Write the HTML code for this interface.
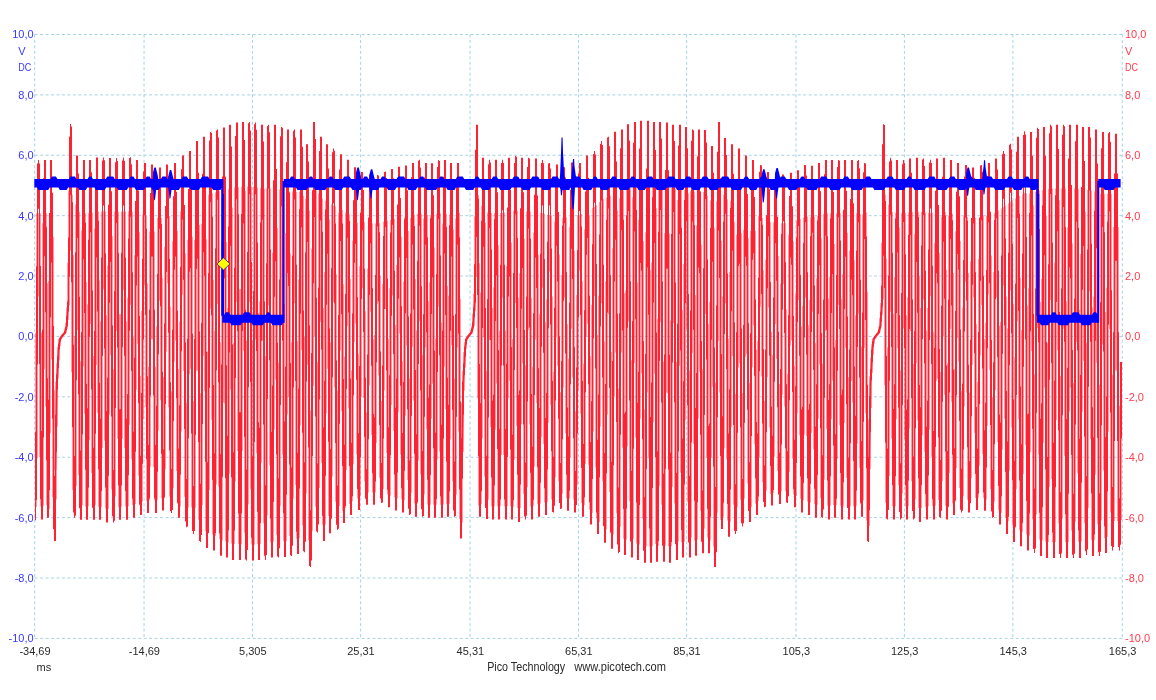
<!DOCTYPE html>
<html><head><meta charset="utf-8"><title>PicoScope</title>
<style>html,body{margin:0;padding:0;background:#fff;width:1156px;height:700px;overflow:hidden}svg{display:block}</style>
</head><body>
<svg width="1156" height="700" viewBox="0 0 1156 700">
<rect width="1156" height="700" fill="#ffffff"/>
<path d="M34.7 34.5H1122.3M34.7 94.89H1122.3M34.7 155.28H1122.3M34.7 215.67H1122.3M34.7 276.06H1122.3M34.7 336.45H1122.3M34.7 396.84H1122.3M34.7 457.23H1122.3M34.7 517.62H1122.3M34.7 578.01H1122.3M34.7 638.4H1122.3M34.7 34.5V638.4M144.06 34.5V638.4M252.49 34.5V638.4M360.63 34.5V638.4M470.06 34.5V638.4M578.49 34.5V638.4M686.63 34.5V638.4M796 34.5V638.4M904.4 34.5V638.4M1012.9 34.5V638.4M1122.3 34.5V638.4" stroke="#a6d3e3" stroke-width="1" stroke-dasharray="3 2.45" fill="none"/>
<path d="M35 332.82h1V507.01h-1ZM36 213.25h1V506.89h-1ZM37 213.25h1V457.67h-1ZM38 213.25h1V296.41h-1ZM39 213.25h1V456.92h-1ZM40 213.25h1V506.38h-1ZM41 332.38h1V506.25h-1ZM42 223.21h1V506.04h-1ZM43 213.25h1V505.79h-1ZM44 213.25h1V369.25h-1ZM45 213.25h1V406.56h-1ZM46 213.25h1V505.05h-1ZM47 283.27h1V504.81h-1ZM48 280.98h1V505.64h-1ZM49 213.25h1V508.99h-1ZM50 213.25h1V433.21h-1ZM51 212.61h1V359.17h-1ZM52 211.32h1V496.96h-1ZM53 237.06h1V522.38h-1ZM54 390.15h1V525.73h-1ZM55 381.67h1V525.52h-1ZM56 363.33h1V499.61h-1ZM57 346.7h1V426.75h-1ZM58 338.9h1V378.63h-1ZM59 337.35h1V360.59h-1ZM60 335.81h1V345.98h-1ZM61 334.58h1V339.59h-1ZM62 333.4h1V338.05h-1ZM63 332.22h1V336.5h-1ZM64 328.45h1V335.32h-1ZM65 322.38h1V334.14h-1ZM66 307.37h1V332.69h-1ZM67 262.83h1V328.64h-1ZM68 190.64h1V319.92h-1ZM69 189.35h1V305.46h-1ZM70 188.06h1V250.5h-1ZM71 191.35h1V372.23h-1ZM72 194.64h1V489.96h-1ZM73 255.13h1V505.84h-1ZM74 336.15h1V504.74h-1ZM75 204.51h1V504.92h-1ZM76 207.8h1V485.82h-1ZM77 210.25h1V330.05h-1ZM78 210.73h1V475.03h-1ZM79 211.63h1V506.2h-1ZM80 361.59h1V506.52h-1ZM81 230.45h1V506.59h-1ZM82 212.63h1V505.17h-1ZM83 213.11h1V365.99h-1ZM84 213.25h1V413.86h-1ZM85 213.25h1V506.59h-1ZM86 282.04h1V506.59h-1ZM87 304.44h1V506.59h-1ZM88 213.25h1V506.59h-1ZM89 213.25h1V440.15h-1ZM90 213.2h1V323.89h-1ZM91 212.93h1V473.07h-1ZM92 212.66h1V506.59h-1ZM93 356.01h1V506.59h-1ZM94 228.44h1V506.59h-1ZM95 211.86h1V505.07h-1ZM96 211.59h1V364.92h-1ZM97 211.49h1V413.12h-1ZM98 211.47h1V506.59h-1ZM99 280.39h1V506.59h-1ZM100 321.42h1V506.73h-1ZM101 211.41h1V507.08h-1ZM102 211.39h1V448.06h-1ZM103 211.37h1V289.62h-1ZM104 211.44h1V440.72h-1ZM105 211.52h1V508.48h-1ZM106 314.96h1V508.83h-1ZM107 265.83h1V509h-1ZM108 211.74h1V509h-1ZM109 211.82h1V414.67h-1ZM110 211.86h1V355.09h-1ZM111 211.86h1V489.27h-1ZM112 236.3h1V509h-1ZM113 369.15h1V509h-1ZM114 211.86h1V508.66h-1ZM115 211.86h1V496.48h-1ZM116 211.86h1V330.91h-1ZM117 211.81h1V438.86h-1ZM118 211.75h1V507.15h-1ZM119 314.23h1V506.78h-1ZM120 313.94h1V506.59h-1ZM121 211.61h1V506.59h-1ZM122 211.56h1V438.75h-1ZM123 211.5h1V289.75h-1ZM124 211.47h1V448.1h-1ZM125 211.44h1V506.59h-1ZM126 321.53h1V506.59h-1ZM127 297.81h1V506.42h-1ZM128 211.35h1V506.13h-1ZM129 211.32h1V424.75h-1ZM130 211.32h1V304.96h-1ZM131 211.6h1V459.13h-1ZM132 211.87h1V505h-1ZM133 337h1V504.72h-1ZM134 255.23h1V504.39h-1ZM135 212.7h1V504.04h-1ZM136 212.98h1V389.74h-1ZM137 213.25h1V344.05h-1ZM138 213.52h1V475.46h-1ZM139 232.36h1V502.64h-1ZM140 376.01h1V502.29h-1ZM141 311.01h1V502h-1ZM142 214.62h1V501.72h-1ZM143 214.89h1V419.27h-1ZM144 215.16h1V285.21h-1ZM145 215.35h1V407.02h-1ZM146 215.51h1V500.63h-1ZM147 283.45h1V500.36h-1ZM148 366.85h1V500.17h-1ZM149 231.53h1V500.17h-1ZM150 216.16h1V467.08h-1ZM151 216.32h1V339.25h-1ZM152 216.54h1V339.25h-1ZM153 216.81h1V467.08h-1ZM154 231.53h1V500.17h-1ZM155 366.85h1V500.17h-1ZM156 326.24h1V499.95h-1ZM157 217.89h1V499.64h-1ZM158 218.16h1V430.75h-1ZM159 218.42h1V300.54h-1ZM160 218.31h1V400.14h-1ZM161 218.02h1V498.38h-1ZM162 277.86h1V498.06h-1ZM163 377.27h1V497.93h-1ZM164 246.87h1V498.21h-1ZM165 216.89h1V469.17h-1ZM166 216.6h1V351.53h-1ZM167 216.36h1V283.15h-1ZM168 216.21h1V407.2h-1ZM169 216.05h1V496.57h-1ZM170 306.69h1V499.89h-1ZM171 391.35h1V500.17h-1ZM172 241.21h1V500.78h-1ZM173 215.44h1V488.29h-1ZM174 215.29h1V361.84h-1ZM175 214.88h1V340.8h-1ZM176 214.21h1V471.02h-1ZM177 231.08h1V503.84h-1ZM178 368.93h1V504.45h-1ZM179 321.87h1V505.43h-1ZM180 211.51h1V506.56h-1ZM181 210.84h1V431.49h-1ZM182 210.17h1V294.85h-1ZM183 209.67h1V370.97h-1ZM184 209.25h1V496.78h-1ZM185 253.44h1V512.22h-1ZM186 402.79h1V513.36h-1ZM187 239.87h1V514.31h-1ZM188 207.58h1V507.63h-1ZM189 207.16h1V374.13h-1ZM190 206.46h1V368.75h-1ZM191 205.48h1V507.15h-1ZM192 236.82h1V518.96h-1ZM193 401.15h1V519.89h-1ZM194 240.05h1V520.94h-1ZM195 201.53h1V507.64h-1ZM196 200.55h1V370.64h-1ZM197 199.78h1V370.46h-1ZM198 199.34h1V519.77h-1ZM199 224.99h1V526.19h-1ZM200 393.17h1V527.22h-1ZM201 223.79h1V528.04h-1ZM202 197.6h1V505.04h-1ZM203 197.16h1V355.8h-1ZM204 196.7h1V391.28h-1ZM205 196.2h1V531.33h-1ZM206 239.3h1V532.15h-1ZM207 351.47h1V532.88h-1ZM208 194.7h1V533.23h-1ZM209 194.2h1V490.09h-1ZM210 193.7h1V308.87h-1ZM211 193.41h1V419.72h-1ZM212 193.15h1V534.61h-1ZM213 279.69h1V534.95h-1ZM214 330.98h1V535.38h-1ZM215 192.34h1V536.12h-1ZM216 192.08h1V484.53h-1ZM217 191.81h1V304.06h-1ZM218 191.59h1V486.48h-1ZM219 191.37h1V539.1h-1ZM220 342.15h1V539.84h-1ZM221 241.6h1V540.24h-1ZM222 190.7h1V540.49h-1ZM223 190.48h1V402.52h-1ZM224 190.22h1V403.61h-1ZM225 189.93h1V541.23h-1ZM226 242.05h1V541.47h-1ZM227 307.95h1V541.77h-1ZM228 189.06h1V542.18h-1ZM229 188.78h1V473.83h-1ZM230 188.5h1V389.24h-1ZM231 188.26h1V543.41h-1ZM232 207.6h1V543.82h-1ZM233 342.77h1V544.07h-1ZM234 187.53h1V544.07h-1ZM235 187.29h1V481.39h-1ZM236 187.05h1V301.84h-1ZM237 186.96h1V451.02h-1ZM238 186.91h1V544.07h-1ZM239 289.37h1V544.07h-1ZM240 289.06h1V544.1h-1ZM241 186.75h1V544.17h-1ZM242 186.7h1V450.9h-1ZM243 186.66h1V350.78h-1ZM244 186.66h1V532.85h-1ZM245 190.91h1V544.47h-1ZM246 340.85h1V544.53h-1ZM247 186.66h1V544.53h-1ZM248 186.66h1V504.49h-1ZM249 186.66h1V301.64h-1ZM250 186.72h1V489.29h-1ZM251 186.78h1V544.53h-1ZM252 340.85h1V544.53h-1ZM253 186.89h1V544.48h-1ZM254 186.95h1V544.41h-1ZM255 187.03h1V339.44h-1ZM256 187.25h1V453.16h-1ZM257 187.47h1V544.18h-1ZM258 313.12h1V544.11h-1ZM259 301.41h1V544.07h-1ZM260 188.14h1V544.07h-1ZM261 188.37h1V462.53h-1ZM262 188.55h1V340.8h-1ZM263 188.55h1V523.14h-1ZM264 189.09h1V544.07h-1ZM265 356.16h1V544.07h-1ZM266 188.55h1V543.69h-1ZM267 188.55h1V515.31h-1ZM268 188.55h1V305.22h-1ZM269 188.55h1V465.51h-1ZM270 188.55h1V542.21h-1ZM271 325.59h1V541.83h-1ZM272 252.82h1V541.65h-1ZM273 188.55h1V541.65h-1ZM274 188.55h1V429.48h-1ZM275 188.66h1V379.59h-1ZM276 188.88h1V534.7h-1ZM277 228.07h1V541.65h-1ZM278 362.76h1V541.64h-1ZM279 189.55h1V541.59h-1ZM280 189.77h1V506.11h-1ZM281 189.99h1V321.64h-1ZM282 190.28h1V454.43h-1ZM283 190.57h1V541.36h-1ZM284 303.78h1V541.3h-1ZM285 233.35h1V541.2h-1ZM286 191.45h1V541.06h-1ZM287 191.75h1V414.28h-1ZM288 191.84h1V396.9h-1ZM289 191.84h1V536.03h-1ZM290 253.55h1V540.48h-1ZM291 342.3h1V540.31h-1ZM292 191.84h1V540.01h-1ZM293 191.84h1V498.5h-1ZM294 191.84h1V303.32h-1ZM295 191.84h1V484.97h-1ZM296 191.84h1V538.79h-1ZM297 341.25h1V538.48h-1ZM298 279.41h1V538.22h-1ZM299 191.84h1V537.99h-1ZM300 191.84h1V425.51h-1ZM301 192.18h1V350.01h-1ZM302 193.89h1V525.55h-1ZM303 195.84h1V537.03h-1ZM304 336.72h1V537.04h-1ZM305 199.04h1V539.32h-1ZM306 200.75h1V493.53h-1ZM307 201.68h1V364.71h-1ZM308 199.47h1V540.25h-1ZM309 210.54h1V548.43h-1ZM310 410.4h1V550.02h-1ZM311 248.86h1V545.43h-1ZM312 190.63h1V530.79h-1ZM313 188.42h1V385.96h-1ZM314 186.98h1V336.1h-1ZM315 188.58h1V506.44h-1ZM316 190.19h1V522.44h-1ZM317 362.19h1V518.43h-1ZM318 193.41h1V519.7h-1ZM319 195.02h1V487.92h-1ZM320 196.62h1V321.96h-1ZM321 197.58h1V462.94h-1ZM322 198.38h1V524.75h-1ZM323 307.9h1V526.02h-1ZM324 271.92h1V525.61h-1ZM325 200.77h1V524.5h-1ZM326 201.57h1V413.38h-1ZM327 202.27h1V368.65h-1ZM328 202.75h1V516.08h-1ZM329 219.41h1V520.03h-1ZM330 342.3h1V519.05h-1ZM331 204.18h1V518.61h-1ZM332 204.66h1V476.49h-1ZM333 205.14h1V301.85h-1ZM334 205.69h1V387.25h-1ZM335 206.24h1V501.67h-1ZM336 274.34h1V516.38h-1ZM337 390.62h1V515.93h-1ZM338 213.1h1V515.01h-1ZM339 208.46h1V506.05h-1ZM340 209.01h1V350.14h-1ZM341 209.57h1V411.35h-1ZM342 210.12h1V511.12h-1ZM343 284.36h1V510.15h-1ZM344 356.64h1V509.15h-1ZM345 212.76h1V508.1h-1ZM346 212.33h1V469.94h-1ZM347 212.88h1V326.06h-1ZM348 213.54h1V408.5h-1ZM349 214.25h1V503.9h-1ZM350 278.98h1V502.85h-1ZM351 370.49h1V501.97h-1ZM352 240.86h1V501.35h-1ZM353 217.09h1V464.37h-1ZM354 217.8h1V341.65h-1ZM355 218.42h1V323.44h-1ZM356 218.89h1V454.28h-1ZM357 222.82h1V498.25h-1ZM358 353.66h1V497.63h-1ZM359 266.15h1V497.01h-1ZM360 220.8h1V496.39h-1ZM361 221.28h1V396.74h-1ZM362 221.63h1V288.35h-1ZM363 221.87h1V397.66h-1ZM364 222.1h1V481.43h-1ZM365 311.17h1V493.29h-1ZM366 412.54h1V492.67h-1ZM367 268.5h1V492.54h-1ZM368 223.03h1V492.54h-1ZM369 223.26h1V385.21h-1ZM370 223.42h1V311.84h-1ZM371 223.46h1V434.82h-1ZM372 223.49h1V492.54h-1ZM373 339.15h1V492.54h-1ZM374 334.92h1V492.46h-1ZM375 223.61h1V492.25h-1ZM376 223.64h1V442.88h-1ZM377 223.68h1V303.76h-1ZM378 223.4h1V375.19h-1ZM379 223.09h1V477.63h-1ZM380 275.89h1V491.19h-1ZM381 401.11h1V490.98h-1ZM382 284.09h1V491.46h-1ZM383 221.83h1V489.03h-1ZM384 221.52h1V390.41h-1ZM385 221.21h1V309.12h-1ZM386 220.94h1V452.74h-1ZM387 220.68h1V494.24h-1ZM388 338.9h1V494.79h-1ZM389 288.33h1V495.24h-1ZM390 219.89h1V495.63h-1ZM391 219.63h1V404.94h-1ZM392 219.37h1V295.61h-1ZM393 219.14h1V430.95h-1ZM394 218.9h1V497.21h-1ZM395 325.08h1V497.61h-1ZM396 264.91h1V497.96h-1ZM397 218.2h1V498.24h-1ZM398 217.97h1V412.19h-1ZM399 217.81h1V333.49h-1ZM400 217.69h1V454.87h-1ZM401 236.64h1V499.37h-1ZM402 361.51h1V499.66h-1ZM403 281.68h1V499.98h-1ZM404 217.22h1V500.35h-1ZM405 217.11h1V415.73h-1ZM406 216.92h1V345.5h-1ZM407 216.65h1V480.03h-1ZM408 231.06h1V501.81h-1ZM409 378.61h1V502.18h-1ZM410 218.12h1V502.43h-1ZM411 215.55h1V492.84h-1ZM412 215.27h1V346.67h-1ZM413 214.96h1V400.73h-1ZM414 214.63h1V503.37h-1ZM415 278.97h1V503.61h-1ZM416 330.54h1V503.8h-1ZM417 213.66h1V503.8h-1ZM418 213.34h1V460.82h-1ZM419 213.08h1V321.34h-1ZM420 213.42h1V474.23h-1ZM421 213.77h1V503.8h-1ZM422 355.26h1V503.8h-1ZM423 218.39h1V503.91h-1ZM424 214.8h1V494.43h-1ZM425 215.15h1V347.55h-1ZM426 215.24h1V429.3h-1ZM427 215.27h1V504.44h-1ZM428 301.35h1V504.57h-1ZM429 281.9h1V504.63h-1ZM430 215.37h1V504.63h-1ZM431 215.41h1V418.83h-1ZM432 215.29h1V383.81h-1ZM433 214.96h1V504.63h-1ZM434 247.39h1V504.63h-1ZM435 338.4h1V504.63h-1ZM436 213.96h1V504.63h-1ZM437 213.62h1V459.59h-1ZM438 213.29h1V306.62h-1ZM439 213.25h1V451.81h-1ZM440 213.25h1V504.63h-1ZM441 322.56h1V504.63h-1ZM442 223.73h1V504.54h-1ZM443 213.25h1V504.41h-1ZM444 213.25h1V366.54h-1ZM445 213.5h1V408.89h-1ZM446 213.81h1V504.02h-1ZM447 286.01h1V503.89h-1ZM448 295.81h1V503.8h-1ZM449 214.72h1V503.8h-1ZM450 215.03h1V439.43h-1ZM451 215.22h1V345.1h-1ZM452 215.22h1V481.3h-1ZM453 229.27h1V503.8h-1ZM454 378.64h1V503.8h-1ZM455 218.39h1V506.58h-1ZM456 215.22h1V494.43h-1ZM457 215.22h1V347.55h-1ZM458 214.09h1V431.55h-1ZM459 212.69h1V518.94h-1ZM460 298.88h1V522.03h-1ZM461 402.7h1V523.46h-1ZM462 370.82h1V522.41h-1ZM463 352.04h1V451.75h-1ZM464 342.02h1V390.5h-1ZM465 338h1V367.72h-1ZM466 336.46h1V349.1h-1ZM467 335.05h1V341.3h-1ZM468 333.87h1V338.66h-1ZM469 332.69h1V337.12h-1ZM470 330.13h1V335.79h-1ZM471 326.02h1V334.61h-1ZM472 313.48h1V333.43h-1ZM473 293.66h1V330.23h-1ZM474 216.2h1V326.2h-1ZM475 190.23h1V311.28h-1ZM476 188.83h1V276.94h-1ZM477 191.42h1V398.18h-1ZM478 195.02h1V505.58h-1ZM479 263.21h1V504.53h-1ZM480 292.57h1V503.9h-1ZM481 205.82h1V504.22h-1ZM482 209.42h1V438.29h-1ZM483 211.67h1V337.32h-1ZM484 211.9h1V476.56h-1ZM485 222.68h1V505.54h-1ZM486 370.94h1V505.87h-1ZM487 212.59h1V505.97h-1ZM488 212.82h1V499.66h-1ZM489 213.04h1V339.95h-1ZM490 213.04h1V427.07h-1ZM491 213.04h1V506.14h-1ZM492 307.95h1V506.19h-1ZM493 287.25h1V506.21h-1ZM494 213.04h1V506.21h-1ZM495 213.04h1V429.8h-1ZM496 213.04h1V383.58h-1ZM497 213.04h1V506.21h-1ZM498 245.21h1V506.21h-1ZM499 330.56h1V506.21h-1ZM500 213.04h1V506.21h-1ZM501 213.04h1V454.98h-1ZM502 213.04h1V297.8h-1ZM503 212.82h1V454.98h-1ZM504 212.6h1V506.21h-1ZM505 330.56h1V506.21h-1ZM506 266.23h1V506.21h-1ZM507 211.93h1V506.21h-1ZM508 211.71h1V398.07h-1ZM509 211.5h1V380.73h-1ZM510 211.32h1V506.21h-1ZM511 242.6h1V506.21h-1ZM512 338.89h1V506.32h-1ZM513 210.77h1V506.67h-1ZM514 210.59h1V459.68h-1ZM515 210.4h1V303.04h-1ZM516 210.55h1V426.03h-1ZM517 210.74h1V508.07h-1ZM518 297.87h1V508.42h-1ZM519 273.48h1V508.48h-1ZM520 211.3h1V508.1h-1ZM521 211.48h1V424.27h-1ZM522 211.57h1V363.27h-1ZM523 211.57h1V493.96h-1ZM524 238.64h1V506.59h-1ZM525 365.38h1V506.21h-1ZM526 211.57h1V506.21h-1ZM527 211.57h1V487.16h-1ZM528 211.57h1V329.91h-1ZM529 211.65h1V424.56h-1ZM530 211.73h1V506.21h-1ZM531 297.9h1V506.21h-1ZM532 366.66h1V506.07h-1ZM533 232.7h1V505.72h-1ZM534 212.07h1V466.78h-1ZM535 212.15h1V339.5h-1ZM536 212.27h1V402.97h-1ZM537 212.43h1V504.32h-1ZM538 254.69h1V503.97h-1ZM539 314.06h1V503.68h-1ZM540 212.93h1V503.45h-1ZM541 213.09h1V436.98h-1ZM542 213.25h1V287.77h-1ZM543 213.54h1V444.05h-1ZM544 213.82h1V502.54h-1ZM545 322.3h1V502.31h-1ZM546 299.4h1V502.02h-1ZM547 214.68h1V501.7h-1ZM548 214.96h1V422.76h-1ZM549 215.23h1V271.46h-1ZM550 215.39h1V404.94h-1ZM551 215.55h1V499.32h-1ZM552 296.49h1V500.09h-1ZM553 371.71h1V499.75h-1ZM554 221.76h1V499.31h-1ZM555 216.2h1V477.14h-1ZM556 216.36h1V337.44h-1ZM557 216.57h1V365.64h-1ZM558 216.82h1V481.22h-1ZM559 254.56h1V497.12h-1ZM560 392.15h1V496.68h-1ZM561 275.08h1V496.83h-1ZM562 217.79h1V493.9h-1ZM563 218.03h1V387.46h-1ZM564 218.14h1V297.42h-1ZM565 217.72h1V433.25h-1ZM566 217.3h1V497.88h-1ZM567 324.35h1V498.09h-1ZM568 358.64h1V498.3h-1ZM569 226.96h1V498.52h-1ZM570 215.63h1V457.01h-1ZM571 215.21h1V328.76h-1ZM572 215.02h1V377.82h-1ZM573 215.05h1V499.4h-1ZM574 250.74h1V499.62h-1ZM575 411.49h1V499.9h-1ZM576 295.01h1V500.41h-1ZM577 215.15h1V484.79h-1ZM578 215.18h1V389.77h-1ZM579 215.21h1V270.62h-1ZM580 214.71h1V413.69h-1ZM581 213.99h1V502.98h-1ZM582 281.61h1V503.49h-1ZM583 363.81h1V504.17h-1ZM584 229.62h1V505.1h-1ZM585 211.12h1V464.09h-1ZM586 210.4h1V336.6h-1ZM587 209.8h1V323.68h-1ZM588 209.4h1V464.66h-1ZM589 215.34h1V509.75h-1ZM590 356.32h1V510.68h-1ZM591 304.99h1V511.82h-1ZM592 207.77h1V513.1h-1ZM593 207.36h1V431.53h-1ZM594 206.96h1V296h-1ZM595 205.96h1V467.49h-1ZM596 204.96h1V518.22h-1ZM597 334.78h1V519.5h-1ZM598 295.79h1V520.71h-1ZM599 201.96h1V521.88h-1ZM600 200.95h1V426.38h-1ZM601 199.96h1V303.34h-1ZM602 199.52h1V481.38h-1ZM603 199.08h1V526.57h-1ZM604 341.45h1V527.74h-1ZM605 281.32h1V528.61h-1ZM606 197.77h1V529.41h-1ZM607 197.34h1V414.62h-1ZM608 196.89h1V314.04h-1ZM609 196.36h1V492.1h-1ZM610 195.83h1V532.6h-1ZM611 352.08h1V533.4h-1ZM612 248.19h1V534.03h-1ZM613 194.23h1V534.62h-1ZM614 193.69h1V396.18h-1ZM615 193.28h1V352.39h-1ZM616 193.05h1V513.13h-1ZM617 210.8h1V537h-1ZM618 388.76h1V537.59h-1ZM619 198.3h1V537.87h-1ZM620 192.12h1V526.73h-1ZM621 191.88h1V352.56h-1ZM622 191.39h1V447.67h-1ZM623 190.84h1V538.86h-1ZM624 293.33h1V539.11h-1ZM625 290.13h1V539.41h-1ZM626 189.19h1V539.77h-1ZM627 188.64h1V446.36h-1ZM628 188.15h1V321.45h-1ZM629 187.91h1V501.17h-1ZM630 187.67h1V541.21h-1ZM631 360.35h1V541.58h-1ZM632 197.31h1V541.95h-1ZM633 186.94h1V538.81h-1ZM634 186.7h1V363.01h-1ZM635 186.53h1V437.75h-1ZM636 186.38h1V543.46h-1ZM637 282.39h1V543.84h-1ZM638 219.8h1V544.21h-1ZM639 185.93h1V544.58h-1ZM640 185.78h1V418.7h-1ZM641 185.75h1V373.33h-1ZM642 185.75h1V518.62h-1ZM643 241.12h1V546.04h-1ZM644 409.4h1V546.41h-1ZM645 232.2h1V546.48h-1ZM646 185.75h1V546.48h-1ZM647 185.75h1V392.5h-1ZM648 185.82h1V458.23h-1ZM649 185.97h1V546.48h-1ZM650 270.26h1V546.48h-1ZM651 262.46h1V546.39h-1ZM652 186.41h1V546.26h-1ZM653 186.55h1V422.34h-1ZM654 186.66h1V373.68h-1ZM655 186.66h1V543.89h-1ZM656 208.15h1V545.75h-1ZM657 318.51h1V545.65h-1ZM658 186.66h1V545.65h-1ZM659 186.66h1V485.84h-1ZM660 186.67h1V322.2h-1ZM661 186.72h1V504.63h-1ZM662 186.77h1V545.65h-1ZM663 361.7h1V545.65h-1ZM664 233.31h1V545.75h-1ZM665 186.93h1V545.87h-1ZM666 186.98h1V392.65h-1ZM667 187.13h1V393.2h-1ZM668 187.37h1V546.26h-1ZM669 233.54h1V546.38h-1ZM670 320.41h1V546.41h-1ZM671 188.11h1V546.03h-1ZM672 188.35h1V487.06h-1ZM673 188.55h1V322.9h-1ZM674 188.55h1V503.5h-1ZM675 188.55h1V544.52h-1ZM676 362h1V544.14h-1ZM677 199.99h1V543.75h-1ZM678 188.55h1V541.42h-1ZM679 188.55h1V365.66h-1ZM680 188.73h1V472.82h-1ZM681 188.95h1V542.16h-1ZM682 309.92h1V541.77h-1ZM683 264.07h1V541.65h-1ZM684 189.63h1V541.65h-1ZM685 189.86h1V420.33h-1ZM686 190.1h1V329.21h-1ZM687 190.38h1V501.97h-1ZM688 193.19h1V541.65h-1ZM689 370.55h1V541.65h-1ZM690 191.24h1V541.45h-1ZM691 191.52h1V537.59h-1ZM692 191.81h1V353.32h-1ZM693 191.84h1V443.97h-1ZM694 191.84h1V540.46h-1ZM695 294.81h1V540.21h-1ZM696 225.56h1V539.92h-1ZM697 191.84h1V539.55h-1ZM698 191.84h1V418.59h-1ZM699 191.88h1V371.64h-1ZM700 191.93h1V510.94h-1ZM701 244.85h1V538.09h-1ZM702 369.3h1V537.72h-1ZM703 192.09h1V537.65h-1ZM704 192.14h1V528.74h-1ZM705 192.51h1V313.9h-1ZM706 194.12h1V457.62h-1ZM707 195.73h1V537.65h-1ZM708 323.66h1V537.65h-1ZM709 302.1h1V538.48h-1ZM710 200.57h1V540.55h-1ZM711 202.19h1V457.56h-1ZM712 202.57h1V386.86h-1ZM713 200.08h1V546.76h-1ZM714 228.3h1V548.83h-1ZM715 382.61h1V549.46h-1ZM716 201.32h1V544.32h-1ZM717 190.14h1V512.63h-1ZM718 187.65h1V341.17h-1ZM719 187.72h1V392.39h-1ZM720 189.5h1V519.65h-1ZM721 240.67h1V518.64h-1ZM722 296.46h1V515.37h-1ZM723 194.83h1V516.44h-1ZM724 196.61h1V448.62h-1ZM725 198.04h1V303.36h-1ZM726 198.66h1V459.31h-1ZM727 199.28h1V520.7h-1ZM728 338.55h1V521.77h-1ZM729 271.93h1V522.12h-1ZM730 201.13h1V521.75h-1ZM731 201.75h1V427.2h-1ZM732 202.3h1V355.91h-1ZM733 202.74h1V504.72h-1ZM734 222.26h1V520.26h-1ZM735 393.93h1V519.89h-1ZM736 234.81h1V518.86h-1ZM737 204.48h1V506.97h-1ZM738 204.92h1V367.63h-1ZM739 205.49h1V363.26h-1ZM740 206.19h1V499.81h-1ZM741 233.08h1V513.75h-1ZM742 393h1V512.72h-1ZM743 229.66h1V512.16h-1ZM744 208.99h1V498.45h-1ZM745 209.69h1V356.87h-1ZM746 210.25h1V354.3h-1ZM747 210.73h1V483.53h-1ZM748 238.16h1V509.31h-1ZM749 383.1h1V508.75h-1ZM750 230.88h1V507.95h-1ZM751 212.64h1V507.09h-1ZM752 213.11h1V367.24h-1ZM753 213.56h1V325.47h-1ZM754 214h1V444.23h-1ZM755 230.97h1V503.67h-1ZM756 349.73h1V502.81h-1ZM757 341.17h1V501.92h-1ZM758 215.76h1V500.94h-1ZM759 216.2h1V457.57h-1ZM760 216.64h1V306.68h-1ZM761 217.26h1V376.51h-1ZM762 217.91h1V482.24h-1ZM763 270.31h1V496.04h-1ZM764 400.99h1V495.06h-1ZM765 259.82h1V494.77h-1ZM766 220.48h1V490.83h-1ZM767 221.13h1V377.33h-1ZM768 221.58h1V307.56h-1ZM769 221.73h1V427.58h-1ZM770 221.89h1V493.73h-1ZM771 331.87h1V493.53h-1ZM772 355.06h1V493.32h-1ZM773 222.52h1V493.11h-1ZM774 222.5h1V456.68h-1ZM775 222.66h1V324.14h-1ZM776 222.77h1V359.11h-1ZM777 222.86h1V470.96h-1ZM778 255.88h1V492.05h-1ZM779 384.09h1V491.84h-1ZM780 283.63h1V491.71h-1ZM781 223.24h1V491.6h-1ZM782 223.33h1V394.87h-1ZM783 223.37h1V283.93h-1ZM784 223.19h1V406.31h-1ZM785 223.02h1V491.17h-1ZM786 309.58h1V491.06h-1ZM787 374.01h1V491.02h-1ZM788 234.63h1V491.55h-1ZM789 222.32h1V471.64h-1ZM790 222.14h1V345.74h-1ZM791 221.93h1V340.5h-1ZM792 221.7h1V458.52h-1ZM793 241.4h1V494.22h-1ZM794 365.61h1V494.75h-1ZM795 293.47h1V495.36h-1ZM796 220.75h1V496.04h-1ZM797 220.51h1V413.21h-1ZM798 220.22h1V299.93h-1ZM799 219.7h1V435.24h-1ZM800 219.18h1V498.72h-1ZM801 326.75h1V499.39h-1ZM802 305.9h1V499.94h-1ZM803 217.62h1V500.28h-1ZM804 217.1h1V434.67h-1ZM805 216.7h1V297.68h-1ZM806 216.78h1V436.07h-1ZM807 216.86h1V501.66h-1ZM808 325.13h1V502.01h-1ZM809 299.7h1V502.36h-1ZM810 217.11h1V502.71h-1ZM811 217.19h1V433.12h-1ZM812 217.16h1V311.77h-1ZM813 216.86h1V449.41h-1ZM814 216.57h1V504.11h-1ZM815 342.71h1V504.46h-1ZM816 278.33h1V504.63h-1ZM817 215.69h1V504.63h-1ZM818 215.39h1V418.75h-1ZM819 215.1h1V364.46h-1ZM820 214.8h1V497.89h-1ZM821 237.97h1V504.63h-1ZM822 363.79h1V504.66h-1ZM823 213.91h1V504.9h-1ZM824 213.61h1V479.63h-1ZM825 213.31h1V330.91h-1ZM826 213.25h1V428.88h-1ZM827 213.25h1V505.86h-1ZM828 298.41h1V506.09h-1ZM829 277h1V506.09h-1ZM830 213.25h1V505.83h-1ZM831 213.25h1V419.19h-1ZM832 213.25h1V380.61h-1ZM833 213.25h1V505.07h-1ZM834 244.03h1V504.81h-1ZM835 340.06h1V504.7h-1ZM836 213.25h1V504.93h-1ZM837 213.25h1V458.94h-1ZM838 213.25h1V304.8h-1ZM839 213.25h1V425.19h-1ZM840 213.25h1V505.85h-1ZM841 299.36h1V506.08h-1ZM842 274.28h1V506.21h-1ZM843 213.25h1V506.21h-1ZM844 213.25h1V423.02h-1ZM845 213.25h1V347.86h-1ZM846 213.25h1V477.78h-1ZM847 232.66h1V506.21h-1ZM848 377.01h1V506.21h-1ZM849 250.62h1V506.21h-1ZM850 213.25h1V506.21h-1ZM851 213.25h1V381.09h-1ZM852 213.25h1V402.5h-1ZM853 213.25h1V506.21h-1ZM854 260.31h1V506.21h-1ZM855 315.29h1V506.07h-1ZM856 213.25h1V505.7h-1ZM857 213.25h1V443.38h-1ZM858 213.29h1V313.63h-1ZM859 213.6h1V467.74h-1ZM860 213.92h1V504.24h-1ZM861 346.42h1V503.87h-1ZM862 214.55h1V506.58h-1ZM863 214.87h1V500.36h-1ZM864 215.18h1V348.05h-1ZM865 213.94h1V413.13h-1ZM866 212.51h1V520.52h-1ZM867 291.67h1V524h-1ZM868 419.5h1V527.03h-1ZM869 376.17h1V525.93h-1ZM870 357.67h1V469.25h-1ZM871 344.36h1V408.09h-1ZM872 338.44h1V373.13h-1ZM873 336.89h1V354.46h-1ZM874 335.41h1V343.64h-1ZM875 334.23h1V339.1h-1ZM876 333.04h1V337.55h-1ZM877 331.29h1V336.15h-1ZM878 327.23h1V334.97h-1ZM879 317.67h1V333.78h-1ZM880 303.01h1V331.4h-1ZM881 242.83h1V327.42h-1ZM882 189.76h1V315.35h-1ZM883 188.34h1V299.49h-1ZM884 191.24h1V385.14h-1ZM885 194.63h1V502.72h-1ZM886 258.56h1V507.21h-1ZM887 347.19h1V506.21h-1ZM888 204.8h1V506.21h-1ZM889 208.19h1V475.97h-1ZM890 211.57h1V311.72h-1ZM891 211.83h1V438.46h-1ZM892 212.08h1V506.21h-1ZM893 313.83h1V506.21h-1ZM894 277h1V506.21h-1ZM895 212.85h1V506.21h-1ZM896 213.1h1V419.19h-1ZM897 213.25h1V348.29h-1ZM898 213.25h1V485.27h-1ZM899 227.49h1V506.21h-1ZM900 370.38h1V506.21h-1ZM901 213.25h1V506.21h-1ZM902 213.25h1V493.49h-1ZM903 213.25h1V328.53h-1ZM904 213.1h1V439h-1ZM905 212.95h1V506.21h-1ZM906 315.19h1V506.21h-1ZM907 297.49h1V506.21h-1ZM908 212.48h1V506.21h-1ZM909 212.33h1V428.5h-1ZM910 212.19h1V330.94h-1ZM911 212.09h1V480.99h-1ZM912 212h1V506.21h-1ZM913 364.12h1V506.21h-1ZM914 234.23h1V506.55h-1ZM915 211.71h1V499.2h-1ZM916 211.61h1V363.17h-1ZM917 211.63h1V420.39h-1ZM918 211.73h1V508.07h-1ZM919 276.23h1V508.44h-1ZM920 307.95h1V508.46h-1ZM921 212.02h1V508.11h-1ZM922 212.12h1V435.31h-1ZM923 212.22h1V299.45h-1ZM924 212.34h1V451.73h-1ZM925 212.45h1V506.71h-1ZM926 330.42h1V506.35h-1ZM927 307.95h1V506.21h-1ZM928 212.81h1V506.21h-1ZM929 212.93h1V429.8h-1ZM930 213.04h1V295.88h-1ZM931 212.91h1V456.87h-1ZM932 212.78h1V506.21h-1ZM933 332.23h1V506.21h-1ZM934 243.29h1V506.05h-1ZM935 212.39h1V505.81h-1ZM936 212.26h1V381.08h-1ZM937 212.15h1V378.51h-1ZM938 212.06h1V500.06h-1ZM939 252.76h1V504.85h-1ZM940 372.03h1V504.66h-1ZM941 216.86h1V504.89h-1ZM942 211.69h1V481.11h-1ZM943 211.6h1V336.53h-1ZM944 211.74h1V394.81h-1ZM945 211.98h1V505.8h-1ZM946 270.12h1V506.03h-1ZM947 363.31h1V506.1h-1ZM948 215.38h1V505.52h-1ZM949 212.94h1V473.1h-1ZM950 213.18h1V328.99h-1ZM951 213.45h1V402.08h-1ZM952 213.72h1V503.2h-1ZM953 273.12h1V502.62h-1ZM954 369.01h1V502.12h-1ZM955 231.25h1V501.78h-1ZM956 214.81h1V468.3h-1ZM957 215.08h1V338.04h-1ZM958 215.31h1V361.61h-1ZM959 215.5h1V487.91h-1ZM960 241.12h1V500.13h-1ZM961 391.09h1V499.8h-1ZM962 307.87h1V499.8h-1ZM963 216.25h1V496.06h-1ZM964 216.44h1V406.18h-1ZM965 216.63h1V281.82h-1ZM966 216.85h1V392.82h-1ZM967 217.1h1V499.8h-1ZM968 272.99h1V499.8h-1ZM969 392.72h1V499.74h-1ZM970 261.44h1V499.43h-1ZM971 218.07h1V478.14h-1ZM972 218.31h1V364.79h-1ZM973 218.46h1V297.33h-1ZM974 218.24h1V432.64h-1ZM975 218.01h1V497.88h-1ZM976 324.15h1V497.57h-1ZM977 381.89h1V497.42h-1ZM978 259.07h1V497.53h-1ZM979 217.11h1V465.7h-1ZM980 216.89h1V355.6h-1ZM981 216.67h1V304.94h-1ZM982 216.47h1V453.98h-1ZM983 216.27h1V498.08h-1ZM984 339h1V498.18h-1ZM985 322.73h1V498.79h-1ZM986 215.67h1V499.62h-1ZM987 215.47h1V425.69h-1ZM988 215.27h1V294.19h-1ZM989 214.93h1V369.93h-1ZM990 214.53h1V488.98h-1ZM991 255.56h1V503.73h-1ZM992 397.27h1V504.55h-1ZM993 271.93h1V505.4h-1ZM994 212.93h1V501.73h-1ZM995 212.53h1V389.92h-1ZM996 212.06h1V297.27h-1ZM997 211.33h1V441.97h-1ZM998 210.6h1V509.68h-1ZM999 326.02h1V510.54h-1ZM1000 321.78h1V511.54h-1ZM1001 208.41h1V512.77h-1ZM1002 207.68h1V449.84h-1ZM1003 206.96h1V285.4h-1ZM1004 206.2h1V418.79h-1ZM1005 205.45h1V517.68h-1ZM1006 296.49h1V518.9h-1ZM1007 328.53h1V520.09h-1ZM1008 203.2h1V521.13h-1ZM1009 202.45h1V470.72h-1ZM1010 201.71h1V290.57h-1ZM1011 201.05h1V427.44h-1ZM1012 200.39h1V525.27h-1ZM1013 303.93h1V526.31h-1ZM1014 357.5h1V527.26h-1ZM1015 198.4h1V527.83h-1ZM1016 197.74h1V489.24h-1ZM1017 197.08h1V321.2h-1ZM1018 196.48h1V418.91h-1ZM1019 195.91h1V530.15h-1ZM1020 277.87h1V530.73h-1ZM1021 330.27h1V531.32h-1ZM1022 194.18h1V531.91h-1ZM1023 193.6h1V474h-1ZM1024 193.03h1V288.16h-1ZM1025 193.12h1V444.99h-1ZM1026 193.21h1V534.28h-1ZM1027 305.66h1V534.87h-1ZM1028 288.5h1V535.36h-1ZM1029 193.5h1V535.7h-1ZM1030 193.59h1V452.32h-1ZM1031 193.51h1V351.04h-1ZM1032 193.04h1V519.27h-1ZM1033 205.31h1V537.04h-1ZM1034 374.32h1V537.37h-1ZM1035 191.63h1V537.8h-1ZM1036 191.16h1V514.5h-1ZM1037 190.69h1V327.87h-1ZM1038 190.56h1V454.82h-1ZM1039 190.46h1V539.52h-1ZM1040 302.09h1V539.94h-1ZM1041 278.75h1V540.31h-1ZM1042 190.18h1V540.61h-1ZM1043 190.08h1V442.83h-1ZM1044 189.95h1V387.62h-1ZM1045 189.72h1V541.51h-1ZM1046 215.47h1V541.81h-1ZM1047 342.86h1V542.02h-1ZM1048 189.03h1V542.02h-1ZM1049 188.8h1V486.68h-1ZM1050 188.57h1V299.93h-1ZM1051 188.55h1V478.97h-1ZM1052 188.55h1V542.02h-1ZM1053 319.66h1V542.02h-1ZM1054 262.77h1V542.02h-1ZM1055 188.55h1V542.02h-1ZM1056 188.55h1V419.93h-1ZM1057 188.55h1V350.13h-1ZM1058 188.55h1V523.28h-1ZM1059 200.16h1V542.02h-1ZM1060 375.97h1V542.02h-1ZM1061 188.55h1V542.02h-1ZM1062 188.55h1V518.77h-1ZM1063 188.55h1V328.63h-1ZM1064 188.55h1V455.64h-1ZM1065 188.55h1V542.02h-1ZM1066 301.13h1V542.02h-1ZM1067 227.18h1V542.02h-1ZM1068 188.55h1V542.02h-1ZM1069 188.55h1V411.43h-1ZM1070 188.55h1V387.39h-1ZM1071 188.55h1V530.55h-1ZM1072 243.54h1V542.02h-1ZM1073 383.02h1V542.02h-1ZM1074 188.55h1V542.02h-1ZM1075 188.55h1V521.57h-1ZM1076 188.55h1V341.85h-1ZM1077 188.73h1V473.14h-1ZM1078 188.96h1V542.02h-1ZM1079 310.09h1V542.02h-1ZM1080 253.91h1V541.73h-1ZM1081 189.65h1V541.31h-1ZM1082 189.88h1V411.72h-1ZM1083 190.01h1V361.11h-1ZM1084 190.01h1V523.01h-1ZM1085 211.68h1V539.65h-1ZM1086 342.81h1V539.23h-1ZM1087 190.01h1V539.37h-1ZM1088 190.01h1V507.75h-1ZM1089 190.07h1V291.18h-1ZM1090 190.34h1V439.1h-1ZM1091 190.6h1V539.91h-1ZM1092 307.41h1V540.05h-1ZM1093 296.86h1V540.16h-1ZM1094 191.41h1V540.16h-1ZM1095 191.67h1V474.8h-1ZM1096 191.95h1V362.83h-1ZM1097 192.22h1V524.13h-1ZM1098 213.96h1V540.16h-1ZM1099 384.76h1V540.16h-1ZM1100 193.95h1V539.72h-1ZM1101 193.32h1V520.36h-1ZM1102 193.6h1V344.5h-1ZM1103 193.66h1V470.56h-1ZM1104 193.66h1V537.95h-1ZM1105 312.11h1V537.5h-1ZM1106 287.65h1V537.13h-1ZM1107 193.66h1V536.78h-1ZM1108 193.66h1V431.75h-1ZM1109 193.67h1V328.98h-1ZM1110 193.85h1V512.61h-1ZM1111 194.03h1V535.39h-1ZM1112 374.67h1V535.04h-1ZM1113 227.07h1V535.04h-1ZM1114 194.57h1V521.07h-1ZM1115 194.75h1V370.51h-1ZM1116 194.84h1V370.51h-1ZM1117 194.84h1V521.07h-1ZM1118 227.07h1V535.04h-1ZM1119 405.84h1V535.04h-1ZM1120 362h1V535.04h-1ZM1121 362h1V519.97h-1Z" fill="#ff2233" fill-opacity="0.45"/>
<path d="M35 431.63h1V520.3h-1ZM36 266.29h1V500.08h-1ZM37 163.39h1V364.62h-1ZM38 160.1h1V208.76h-1ZM39 163.38h1V364.11h-1ZM40 266.02h1V499.23h-1ZM41 430.95h1V519.4h-1ZM42 329.65h1V519.4h-1ZM43 178.34h1V437.5h-1ZM44 160.1h1V256.19h-1ZM45 160.1h1V312.18h-1ZM46 227.27h1V460.25h-1ZM47 378.2h1V517.7h-1ZM48 399.73h1V517.7h-1ZM49 213.07h1V489.97h-1ZM50 160.1h1V317.18h-1ZM51 160.1h1V262.55h-1ZM52 192.7h1V418.87h-1ZM53 326.05h1V529.14h-1ZM54 475.79h1V541.1h-1ZM55 414.63h1V541.1h-1ZM56 374.43h1V451.65h-1ZM57 356.24h1V389.37h-1ZM58 343.68h1V367.9h-1ZM59 338.38h1V349h-1ZM60 336.84h1V341.2h-1ZM61 335.39h1V338.56h-1ZM62 334.21h1V337.02h-1ZM63 333.03h1V335.69h-1ZM64 330.98h1V334.51h-1ZM65 326.92h1V333.33h-1ZM66 316.2h1V330.16h-1ZM67 301.95h1V326.1h-1ZM68 237.6h1V311.18h-1ZM69 136.6h1V276.84h-1ZM70 124.1h1V194.89h-1ZM71 126.42h1V282.24h-1ZM72 202.14h1V427.25h-1ZM73 344.64h1V512.48h-1ZM74 456.04h1V517.7h-1ZM75 252.3h1V515.8h-1ZM76 155.6h1V380.28h-1ZM77 155.6h1V238h-1ZM78 173.59h1V394.25h-1ZM79 296.87h1V508.21h-1ZM80 450.59h1V519.8h-1ZM81 332.23h1V519.8h-1ZM82 182.94h1V434.27h-1ZM83 160.1h1V259.21h-1ZM84 160.1h1V312.96h-1ZM85 222.75h1V469.65h-1ZM86 383.78h1V519.8h-1ZM87 408.22h1V519.8h-1ZM88 239.85h1V487.57h-1ZM89 160.1h1V336.83h-1ZM90 160.1h1V232.21h-1ZM91 172.22h1V389.46h-1ZM92 290.44h1V507.68h-1ZM93 447.69h1V519.8h-1ZM94 330.93h1V519.8h-1ZM95 180.59h1V433.67h-1ZM96 157.6h1V257.39h-1ZM97 157.6h1V311.52h-1ZM98 220.68h1V469.3h-1ZM99 382.84h1V519.8h-1ZM100 418.79h1V519.8h-1ZM101 257.61h1V490.93h-1ZM102 160.48h1V355.68h-1ZM103 157.4h1V205.39h-1ZM104 160.33h1V348.47h-1ZM105 253.21h1V487.62h-1ZM106 411.07h1V522.4h-1ZM107 377.64h1V522.4h-1ZM108 204.78h1V475.72h-1ZM109 158.1h1V302.86h-1ZM110 158.1h1V262h-1ZM111 191.33h1V416.42h-1ZM112 325.51h1V516.14h-1ZM113 470.05h1V522.4h-1ZM114 291.23h1V520.87h-1ZM115 162.35h1V407.92h-1ZM116 158.1h1V222.99h-1ZM117 161h1V347.45h-1ZM118 253.04h1V485.34h-1ZM119 409.47h1V519.8h-1ZM120 409.32h1V519.8h-1ZM121 252.67h1V485.29h-1ZM122 160.5h1V347.21h-1ZM123 157.6h1V205.56h-1ZM124 160.68h1V355.77h-1ZM125 257.76h1V490.95h-1ZM126 418.84h1V519.8h-1ZM127 394.04h1V519.8h-1ZM128 238.52h1V475.14h-1ZM129 158.03h1V330.84h-1ZM130 157.3h1V216.77h-1ZM131 164.16h1V370.94h-1ZM132 272.15h1V498.85h-1ZM133 431.75h1V517.7h-1ZM134 357.76h1V517.7h-1ZM135 200.91h1V451.67h-1ZM136 159.9h1V285.38h-1ZM137 159.9h1V256.38h-1ZM138 190.61h1V402.91h-1ZM139 315.97h1V504.87h-1ZM140 455.82h1V515.1h-1ZM141 392.89h1V515.1h-1ZM142 258.83h1V463.64h-1ZM143 171.5h1V339.4h-1ZM144 162.9h1V215.16h-1ZM145 162.9h1V314.86h-1ZM146 228.64h1V458.96h-1ZM147 376.35h1V512.9h-1ZM148 445.07h1V512.9h-1ZM149 309.75h1V498.27h-1ZM150 192.89h1V395.57h-1ZM151 164.6h1V256.45h-1ZM152 164.6h1V256.45h-1ZM153 192.89h1V395.57h-1ZM154 309.75h1V498.27h-1ZM155 445.07h1V512.9h-1ZM156 405.77h1V512.9h-1ZM157 273.93h1V471.63h-1ZM158 180.71h1V354.16h-1ZM159 167.6h1V228.78h-1ZM160 167.6h1V306.23h-1ZM161 224.02h1V453.98h-1ZM162 371.77h1V510.4h-1ZM163 449.13h1V510.4h-1ZM164 323.57h1V497.27h-1ZM165 205.93h1V403.91h-1ZM166 164.6h1V271.89h-1ZM167 164.6h1V218.55h-1ZM168 176.06h1V332.8h-1ZM169 258.9h1V450.29h-1ZM170 382.3h1V511.05h-1ZM171 468.99h1V512.9h-1ZM172 329.67h1V510.09h-1ZM173 196.25h1V421.04h-1ZM174 162.9h1V269.68h-1ZM175 162.9h1V256.46h-1ZM176 191.72h1V398.17h-1ZM177 310.77h1V502.79h-1ZM178 448.62h1V517.7h-1ZM179 405.32h1V517.7h-1ZM180 266.98h1V474.39h-1ZM181 169.16h1V351.13h-1ZM182 155.4h1V219.56h-1ZM183 155.4h1V279.71h-1ZM184 204.92h1V429.06h-1ZM185 342.44h1V521.46h-1ZM186 478.96h1V527.2h-1ZM187 338.75h1V526.4h-1ZM188 189h1V438.33h-1ZM189 151.1h1V271.76h-1ZM190 151.1h1V267.89h-1ZM191 187.6h1V433.56h-1ZM192 333.63h1V531.03h-1ZM193 486.11h1V534.1h-1ZM194 338.92h1V531.09h-1ZM195 187.47h1V435.05h-1ZM196 141.1h1V268.96h-1ZM197 141.1h1V258.82h-1ZM198 172.85h1V441.9h-1ZM199 331.58h1V540.99h-1ZM200 483.76h1V541.9h-1ZM201 323h1V534.94h-1ZM202 173.76h1V424.02h-1ZM203 136.8h1V252.27h-1ZM204 136.8h1V275.69h-1ZM205 180.7h1V461.83h-1ZM206 351.76h1V548h-1ZM207 462.29h1V548h-1ZM208 273.25h1V532.95h-1ZM209 140.61h1V387.74h-1ZM210 132.1h1V202.36h-1ZM211 132.85h1V315.22h-1ZM212 216.76h1V479.73h-1ZM213 384.95h1V550.6h-1ZM214 453.27h1V550.6h-1ZM215 248.47h1V533.35h-1ZM216 130.59h1V370.36h-1ZM217 129.5h1V199.72h-1ZM218 137.62h1V382.14h-1ZM219 265.4h1V533.5h-1ZM220 454.25h1V555.8h-1ZM221 364.39h1V555.8h-1ZM222 176.52h1V476.71h-1ZM223 127.4h1V277.54h-1ZM224 127.4h1V278.13h-1ZM225 176.71h1V478.1h-1ZM226 365.33h1V557.5h-1ZM227 435.85h1V557.5h-1ZM228 226.52h1V530.37h-1ZM229 124.8h1V352.49h-1ZM230 124.8h1V245.75h-1ZM231 146.62h1V477.2h-1ZM232 344.51h1V560.1h-1ZM233 452.33h1V560.1h-1ZM234 267.67h1V530.53h-1ZM235 135.91h1V377.99h-1ZM236 122.6h1V199.29h-1ZM237 122.6h1V331.36h-1ZM238 214.29h1V513.38h-1ZM239 412.37h1V560.1h-1ZM240 412.2h1V560.1h-1ZM241 213.9h1V513.33h-1ZM242 122.1h1V331.1h-1ZM243 122.1h1V223.43h-1ZM244 140.06h1V436.71h-1ZM245 309.8h1V559.46h-1ZM246 469.59h1V560.6h-1ZM247 251.94h1V549.89h-1ZM248 123.3h1V387.25h-1ZM249 122.1h1V194.31h-1ZM250 130.45h1V381.96h-1ZM251 261.89h1V537.66h-1ZM252 456.16h1V560.6h-1ZM253 291.08h1V560.6h-1ZM254 124.22h1V441.95h-1ZM255 122.6h1V194.15h-1ZM256 129.65h1V351.02h-1ZM257 242.65h1V511.63h-1ZM258 422.36h1V560.1h-1ZM259 427.66h1V560.1h-1ZM260 222.47h1V523.04h-1ZM261 124.8h1V340.7h-1ZM262 124.8h1V219.71h-1ZM263 141.54h1V424.5h-1ZM264 301.51h1V555.87h-1ZM265 485.29h1V560.1h-1ZM266 263.31h1V554.95h-1ZM267 126.09h1V399.08h-1ZM268 124.8h1V188.85h-1ZM269 132.16h1V360.37h-1ZM270 249.49h1V518.45h-1ZM271 432.01h1V557.5h-1ZM272 385.65h1V557.5h-1ZM273 180.27h1V502.03h-1ZM274 124.8h1V296.65h-1ZM275 124.8h1V261.23h-1ZM276 168.92h1V454.13h-1ZM277 342.76h1V556.57h-1ZM278 478.13h1V557.5h-1ZM279 279.42h1V548.25h-1ZM280 136.15h1V404.98h-1ZM281 126.9h1V206.27h-1ZM282 127.83h1V340.4h-1ZM283 229.67h1V513.24h-1ZM284 421.45h1V557.1h-1ZM285 366.79h1V557.1h-1ZM286 162.21h1V494.6h-1ZM287 129.5h1V273.22h-1ZM288 129.5h1V285.99h-1ZM289 192.52h1V464.38h-1ZM290 362.92h1V555.28h-1ZM291 467.54h1V556.1h-1ZM292 255.81h1V545.68h-1ZM293 130.67h1V387.46h-1ZM294 129.5h1V199.43h-1ZM295 137.59h1V381.08h-1ZM296 264.82h1V531.79h-1ZM297 452.87h1V554h-1ZM298 388.49h1V554h-1ZM299 209.26h1V488.55h-1ZM300 129.5h1V313.71h-1ZM301 129.5h1V227.22h-1ZM302 146.82h1V432.85h-1ZM303 310.47h1V551.2h-1ZM304 462.14h1V552.3h-1ZM305 252.46h1V541.64h-1ZM306 144.2h1V381.6h-1ZM307 144.2h1V241.92h-1ZM308 161.52h1V447.55h-1ZM309 325.17h1V565.9h-1ZM310 510.36h1V567h-1ZM311 353.09h1V560.55h-1ZM312 190.33h1V455.98h-1ZM313 122.1h1V283.17h-1ZM314 122.1h1V216.95h-1ZM315 138.91h1V416.49h-1ZM316 297.71h1V531.34h-1ZM317 463.47h1V532.4h-1ZM318 287.66h1V524.4h-1ZM319 150.94h1V399.56h-1ZM320 136.8h1V220.5h-1ZM321 136.8h1V349.57h-1ZM322 231.83h1V515.75h-1ZM323 427.4h1V541.1h-1ZM324 380.66h1V541.1h-1ZM325 209.55h1V475.75h-1ZM326 144.2h1V304.64h-1ZM327 144.2h1V253.65h-1ZM328 168.6h1V441.85h-1ZM329 328.52h1V533.3h-1ZM330 449.33h1V533.3h-1ZM331 268.34h1V518.5h-1ZM332 152.24h1V377.13h-1ZM333 148.5h1V203.54h-1ZM334 150.73h1V303.33h-1ZM335 223.42h1V442.96h-1ZM336 360.57h1V524.8h-1ZM337 485.53h1V529.8h-1ZM338 314.93h1V528.83h-1ZM339 169.58h1V423.71h-1ZM340 154.2h1V241.08h-1ZM341 154.2h1V314.26h-1ZM342 223.46h1V466.07h-1ZM343 379.08h1V522.9h-1ZM344 444.85h1V522.9h-1ZM345 294.06h1V505.93h-1ZM346 176.77h1V388.64h-1ZM347 159.8h1V237.85h-1ZM348 159.8h1V312.62h-1ZM349 220.98h1V466.13h-1ZM350 378.84h1V515.1h-1ZM351 442.76h1V515.1h-1ZM352 313.6h1V496.18h-1ZM353 200.35h1V395.18h-1ZM354 167.2h1V262.76h-1ZM355 167.2h1V243.83h-1ZM356 188.02h1V379.75h-1ZM357 297.35h1V489.08h-1ZM358 433.27h1V509.9h-1ZM359 366.03h1V509.9h-1ZM360 212.57h1V457.46h-1ZM361 171.9h1V299.04h-1ZM362 171.9h1V230.3h-1ZM363 189.89h1V332.02h-1ZM364 268.76h1V436.63h-1ZM365 377.63h1V498.75h-1ZM366 469.26h1V504.7h-1ZM367 354.44h1V504.7h-1ZM368 217.57h1V439.27h-1ZM369 174.6h1V294.99h-1ZM370 174.6h1V243.27h-1ZM371 192.55h1V365.81h-1ZM372 288.37h1V473.25h-1ZM373 414h1V504.7h-1ZM374 417.38h1V504.7h-1ZM375 274.82h1V481.42h-1ZM376 180.93h1V362.32h-1ZM377 175h1V226.6h-1ZM378 175.5h1V301.21h-1ZM379 232.35h1V424.88h-1ZM380 351.44h1V498.48h-1ZM381 463h1V503h-1ZM382 365.56h1V502.43h-1ZM383 235.92h1V438.58h-1ZM384 172.07h1V308.94h-1ZM385 171.5h1V226.96h-1ZM386 177.89h1V370.58h-1ZM387 278.49h1V489.74h-1ZM388 427.18h1V507.3h-1ZM389 375.26h1V507.3h-1ZM390 232.45h1V455.15h-1ZM391 168.9h1V315.84h-1ZM392 168.9h1V224.68h-1ZM393 178.13h1V354.12h-1ZM394 270.82h1V474.48h-1ZM395 407.68h1V510.4h-1ZM396 378.46h1V510.4h-1ZM397 204.62h1V472.48h-1ZM398 166.7h1V298.64h-1ZM399 166.7h1V257.59h-1ZM400 198.11h1V385.71h-1ZM401 306.36h1V488.28h-1ZM402 432.97h1V512.5h-1ZM403 381.99h1V512.5h-1ZM404 219.34h1V470.74h-1ZM405 165.5h1V313.19h-1ZM406 165.5h1V258.06h-1ZM407 190.19h1V409.24h-1ZM408 316.49h1V508.82h-1ZM409 460.42h1V515.1h-1ZM410 313.6h1V514.19h-1ZM411 177.32h1V415.63h-1ZM412 162.9h1V244.41h-1ZM413 162.9h1V309.59h-1ZM414 225.97h1V453.73h-1ZM415 370.11h1V516.8h-1ZM416 434.19h1V516.8h-1ZM417 260.63h1V502.18h-1ZM418 160.73h1V364.05h-1ZM419 159.8h1V225.71h-1ZM420 167.47h1V390.4h-1ZM421 286.2h1V509.13h-1ZM422 450.89h1V516.8h-1ZM423 314.32h1V515.88h-1ZM424 177.39h1V416.85h-1ZM425 162.9h1V244.8h-1ZM426 162.9h1V332.28h-1ZM427 237.23h1V479.83h-1ZM428 397.79h1V517.7h-1ZM429 384.38h1V517.7h-1ZM430 218.21h1V475.04h-1ZM431 163.2h1V314.07h-1ZM432 163.2h1V277.36h-1ZM433 195.3h1V448.27h-1ZM434 350.87h1V517.7h-1ZM435 432.42h1V517.7h-1ZM436 274.05h1V499h-1ZM437 166.91h1V372.08h-1ZM438 160.1h1V219.11h-1ZM439 160.97h1V355.14h-1ZM440 255.47h1V496.37h-1ZM441 424.63h1V517.7h-1ZM442 330.72h1V517.7h-1ZM443 176.81h1V438.41h-1ZM444 160.1h1V253.49h-1ZM445 160.1h1V314.96h-1ZM446 227.1h1V461.82h-1ZM447 377.65h1V516.8h-1ZM448 404.8h1V516.8h-1ZM449 225.15h1V491.53h-1ZM450 162.9h1V330.69h-1ZM451 162.9h1V256.59h-1ZM452 187.89h1V409.64h-1ZM453 315.75h1V510.44h-1ZM454 461.46h1V516.8h-1ZM455 314.32h1V515.88h-1ZM456 177.39h1V416.85h-1ZM457 162.9h1V244.8h-1ZM458 162.9h1V333.76h-1ZM459 237.35h1V489.5h-1ZM460 401.52h1V538.4h-1ZM461 438.35h1V538.4h-1ZM462 382.11h1V478.4h-1ZM463 363.46h1V414.4h-1ZM464 346.8h1V375.08h-1ZM465 339h1V356.49h-1ZM466 337.45h1V344.32h-1ZM467 335.94h1V339.18h-1ZM468 334.68h1V337.64h-1ZM469 333.5h1V336.16h-1ZM470 332.32h1V334.98h-1ZM471 328.59h1V333.8h-1ZM472 322.27h1V331.77h-1ZM473 307.76h1V327.66h-1ZM474 264.27h1V317h-1ZM475 149.8h1V302.45h-1ZM476 124.8h1V237.07h-1ZM477 124.8h1V294.94h-1ZM478 198.45h1V456.37h-1ZM479 363.93h1V516.8h-1ZM480 403.16h1V516.8h-1ZM481 220.87h1V491.16h-1ZM482 157.7h1V327.95h-1ZM483 157.7h1V246.83h-1ZM484 182.12h1V399.31h-1ZM485 308.08h1V508.11h-1ZM486 455.64h1V519.1h-1ZM487 299.16h1V519.1h-1ZM488 164.29h1V417.62h-1ZM489 159.8h1V228.09h-1ZM490 162.53h1V340h-1ZM491 249.5h1V477.43h-1ZM492 400.56h1V519.4h-1ZM493 394.64h1V519.4h-1ZM494 219.16h1V485.14h-1ZM495 159.8h1V321.25h-1ZM496 159.8h1V275.59h-1ZM497 192.36h1V448.97h-1ZM498 350.17h1V519.4h-1ZM499 428.9h1V519.4h-1ZM500 264.67h1V499.46h-1ZM501 163.04h1V365.53h-1ZM502 159.8h1V210.16h-1ZM503 163.04h1V365.53h-1ZM504 264.67h1V499.46h-1ZM505 428.9h1V519.4h-1ZM506 363.83h1V519.4h-1ZM507 207.55h1V457.12h-1ZM508 157.7h1V296.41h-1ZM509 157.7h1V276.28h-1ZM510 190.04h1V449.4h-1ZM511 347.29h1V519.4h-1ZM512 434.67h1V519.4h-1ZM513 273.01h1V500.17h-1ZM514 163h1V369.95h-1ZM515 156h1V214.14h-1ZM516 156.74h1V327.93h-1ZM517 238.01h1V474.73h-1ZM518 395.03h1V522h-1ZM519 390.31h1V522h-1ZM520 208.16h1V484.44h-1ZM521 157.7h1V308.69h-1ZM522 157.7h1V268.03h-1ZM523 192.16h1V424.46h-1ZM524 330.05h1V516.5h-1ZM525 462.47h1V519.4h-1ZM526 296.47h1V515.71h-1ZM527 167.11h1V401.62h-1ZM528 157.7h1V228.5h-1ZM529 158.43h1V327.62h-1ZM530 238.74h1V472.69h-1ZM531 393.91h1V519.4h-1ZM532 446.68h1V519.4h-1ZM533 313.24h1V499.78h-1ZM534 194.66h1V395.02h-1ZM535 158.6h1V257.68h-1ZM536 158.6h1V288.09h-1ZM537 195.53h1V467.19h-1ZM538 368.33h1V516.8h-1ZM539 407.99h1V516.8h-1ZM540 253.73h1V482.81h-1ZM541 162.96h1V346.83h-1ZM542 160.1h1V205.44h-1ZM543 163.15h1V352.8h-1ZM544 259.3h1V488.27h-1ZM545 418.04h1V515.1h-1ZM546 392.89h1V515.1h-1ZM547 241.81h1V469.62h-1ZM548 163.61h1V328.37h-1ZM549 162.9h1V205.49h-1ZM550 168.38h1V324.42h-1ZM551 248.52h1V451.36h-1ZM552 380.67h1V511.96h-1ZM553 456.81h1V512.5h-1ZM554 307.66h1V505.8h-1ZM555 183.01h1V400.49h-1ZM556 164.6h1V245.74h-1ZM557 164.6h1V281.45h-1ZM558 211.96h1V419.04h-1ZM559 336.45h1V503.12h-1ZM560 462.88h1V509.1h-1ZM561 360.97h1V508.48h-1ZM562 225.66h1V439.27h-1ZM563 167.2h1V301h-1ZM564 167.2h1V223.31h-1ZM565 177.43h1V353.55h-1ZM566 272.35h1V474.66h-1ZM567 407.45h1V510.8h-1ZM568 436.57h1V510.8h-1ZM569 302.76h1V490.7h-1ZM570 189.76h1V384.32h-1ZM571 162.6h1V248.63h-1ZM572 162.6h1V278.95h-1ZM573 200.38h1V438.37h-1ZM574 347.18h1V512.5h-1ZM575 470.9h1V512.5h-1ZM576 367.58h1V505.06h-1ZM577 250.1h1V433.6h-1ZM578 173.42h1V317.45h-1ZM579 162.9h1V210.97h-1ZM580 162.9h1V315.12h-1ZM581 226.4h1V468.03h-1ZM582 381.07h1V516.8h-1ZM583 443.96h1V516.8h-1ZM584 310.3h1V497.15h-1ZM585 191.52h1V392.22h-1ZM586 155.4h1V254.65h-1ZM587 155.4h1V237.9h-1ZM588 177.83h1V384.37h-1ZM589 295.63h1V502.17h-1ZM590 442.1h1V524.6h-1ZM591 401.19h1V524.6h-1ZM592 244.28h1V478.89h-1ZM593 153.93h1V338.25h-1ZM594 151.1h1V202.8h-1ZM595 154.6h1V368.55h-1ZM596 264.03h1V512.6h-1ZM597 439.86h1V534.1h-1ZM598 394.62h1V534.1h-1ZM599 234.38h1V477.25h-1ZM600 143.92h1V326.35h-1ZM601 141.1h1V200.61h-1ZM602 144.95h1V377.59h-1ZM603 264.84h1V526h-1ZM604 452.91h1V542.8h-1ZM605 384h1V542.8h-1ZM606 219.76h1V473.35h-1ZM607 137.54h1V312.61h-1ZM608 136.8h1V208.56h-1ZM609 146.27h1V387.86h-1ZM610 275.15h1V532.58h-1ZM611 461.66h1V548.8h-1ZM612 361.09h1V548.8h-1ZM613 186.64h1V465.18h-1ZM614 131.7h1V281.5h-1ZM615 131.7h1V239.86h-1ZM616 161.48h1V422.04h-1ZM617 313.81h1V544.58h-1ZM618 487.42h1V553.2h-1ZM619 313.17h1V552.12h-1ZM620 148.37h1V434.87h-1ZM621 129.5h1V229.9h-1ZM622 129.5h1V330.41h-1ZM623 219.66h1V508.94h-1ZM624 413.56h1V554.9h-1ZM625 411.84h1V554.9h-1ZM626 215.56h1V508.38h-1ZM627 124.3h1V327.66h-1ZM628 124.3h1V211.01h-1ZM629 140.38h1V400.47h-1ZM630 281.33h1V541.42h-1ZM631 470.79h1V557.5h-1ZM632 321.22h1V557.5h-1ZM633 142.78h1V448.85h-1ZM634 122.1h1V231.55h-1ZM635 122.1h1V319.19h-1ZM636 209.92h1V502.4h-1ZM637 402.82h1V560.1h-1ZM638 371.73h1V560.1h-1ZM639 148.43h1V504.96h-1ZM640 120.8h1V263.1h-1ZM641 120.8h1V270.71h-1ZM642 185.4h1V439.18h-1ZM643 341.35h1V550.81h-1ZM644 497.3h1V562.7h-1ZM645 354.02h1V562.7h-1ZM646 168.54h1V469.04h-1ZM647 120.8h1V267.6h-1ZM648 120.8h1V314.8h-1ZM649 186.28h1V528.42h-1ZM650 417.04h1V562.7h-1ZM651 382.41h1V562.7h-1ZM652 196.88h1V487.92h-1ZM653 122.1h1V302.39h-1ZM654 122.1h1V243.12h-1ZM655 150.03h1V457.2h-1ZM656 332.6h1V561.8h-1ZM657 451.28h1V561.8h-1ZM658 231.83h1V540.91h-1ZM659 122.1h1V360.71h-1ZM660 122.1h1V210.1h-1ZM661 138.42h1V402.41h-1ZM662 281.49h1V545.48h-1ZM663 473.8h1V561.8h-1ZM664 354.39h1V561.8h-1ZM665 170.05h1V468.71h-1ZM666 122.6h1V268.51h-1ZM667 122.6h1V268.8h-1ZM668 170.15h1V469.42h-1ZM669 354.87h1V562.7h-1ZM670 452.63h1V562.7h-1ZM671 234.08h1V541.9h-1ZM672 124.8h1V362.44h-1ZM673 124.8h1V211.93h-1ZM674 140.96h1V402.3h-1ZM675 282.6h1V543.94h-1ZM676 472.97h1V560.1h-1ZM677 323.87h1V560.1h-1ZM678 145.48h1V451.48h-1ZM679 124.8h1V234.23h-1ZM680 124.8h1V350.36h-1ZM681 227.73h1V530.02h-1ZM682 438.4h1V557.5h-1ZM683 381.29h1V557.5h-1ZM684 199.98h1V484.42h-1ZM685 126.9h1V303.11h-1ZM686 126.9h1V221.01h-1ZM687 148.18h1V405.33h-1ZM688 293.98h1V542.41h-1ZM689 475.79h1V557.5h-1ZM690 310.61h1V557.5h-1ZM691 140.84h1V442.53h-1ZM692 129.5h1V221.38h-1ZM693 130.36h1V329.69h-1ZM694 225.05h1V500.73h-1ZM695 407.99h1V555.8h-1ZM696 372.99h1V555.8h-1ZM697 156.31h1V502.3h-1ZM698 129.5h1V267.61h-1ZM699 129.5h1V273.26h-1ZM700 191.43h1V434.78h-1ZM701 340.95h1V541.8h-1ZM702 490.47h1V553.2h-1ZM703 268.16h1V553.2h-1ZM704 130h1V415.04h-1ZM705 130h1V198.96h-1ZM706 142.6h1V359.44h-1ZM707 259.57h1V508.67h-1ZM708 426.04h1V553.2h-1ZM709 423.59h1V553.2h-1ZM710 228.02h1V516.77h-1ZM711 145.9h1V339.66h-1ZM712 145.9h1V261.83h-1ZM713 172.64h1V466.84h-1ZM714 347.48h1V567h-1ZM715 486.88h1V567h-1ZM716 305.59h1V552.25h-1ZM717 151.85h1V417.24h-1ZM718 122.1h1V230.59h-1ZM719 122.1h1V278.04h-1ZM720 178.18h1V455.89h-1ZM721 353.99h1V528.9h-1ZM722 416.13h1V528.9h-1ZM723 221.81h1V502.77h-1ZM724 138.1h1V333.9h-1ZM725 138.1h1V213.79h-1ZM726 155.03h1V369.08h-1ZM727 273.65h1V503.98h-1ZM728 433.57h1V536.7h-1ZM729 389.14h1V536.7h-1ZM730 208.02h1V489.45h-1ZM731 144.2h1V311.19h-1ZM732 144.2h1V250.74h-1ZM733 173.68h1V425.12h-1ZM734 322.49h1V530.75h-1ZM735 484.37h1V534.1h-1ZM736 332.27h1V531.01h-1ZM737 185.25h1V432.87h-1ZM738 148.5h1V266.08h-1ZM739 148.5h1V263.75h-1ZM740 184.51h1V427.2h-1ZM741 328.59h1V523.37h-1ZM742 479.04h1V526.4h-1ZM743 325.03h1V523.21h-1ZM744 183.45h1V422.72h-1ZM745 155.4h1V256.81h-1ZM746 155.4h1V265.63h-1ZM747 193.97h1V409.79h-1ZM748 323.2h1V511.08h-1ZM749 462.17h1V522h-1ZM750 333.29h1V522h-1ZM751 183.08h1V435.94h-1ZM752 160.1h1V259.81h-1ZM753 160.1h1V253.13h-1ZM754 196.95h1V375.65h-1ZM755 299.55h1V478.25h-1ZM756 422.07h1V515.1h-1ZM757 433.45h1V515.1h-1ZM758 277.72h1V496.58h-1ZM759 171.75h1V371.13h-1ZM760 165h1V221.04h-1ZM761 165.53h1V294.09h-1ZM762 224.86h1V423.47h-1ZM763 349.15h1V501.94h-1ZM764 465.59h1V507.3h-1ZM765 349.7h1V506.63h-1ZM766 215.21h1V432.17h-1ZM767 171.9h1V288.3h-1ZM768 171.9h1V236.23h-1ZM769 189.18h1V355.7h-1ZM770 282.09h1V465.93h-1ZM771 406.44h1V505.6h-1ZM772 435.83h1V505.6h-1ZM773 297.51h1V489.91h-1ZM774 189.29h1V381.69h-1ZM775 173.6h1V243.37h-1ZM776 173.6h1V280.73h-1ZM777 216.81h1V407.37h-1ZM778 331.72h1V494.56h-1ZM779 452.48h1V503.9h-1ZM780 368.95h1V503.9h-1ZM781 233.89h1V444.61h-1ZM782 174.6h1V309.55h-1ZM783 174.6h1V221.18h-1ZM784 183.01h1V332.93h-1ZM785 262.36h1V448.18h-1ZM786 384.22h1V502.52h-1ZM787 451.3h1V503h-1ZM788 315.34h1V496.25h-1ZM789 196.02h1V400.27h-1ZM790 172.7h1V257.59h-1ZM791 172.7h1V264.63h-1ZM792 206.13h1V391.97h-1ZM793 316.08h1V489.11h-1ZM794 439.81h1V507.3h-1ZM795 386.13h1V507.3h-1ZM796 237.75h1V462.92h-1ZM797 170.2h1V321.99h-1ZM798 170.2h1V226.1h-1ZM799 180.39h1V355.85h-1ZM800 274.96h1V476.5h-1ZM801 409.54h1V512.5h-1ZM802 406.66h1V512.5h-1ZM803 242.93h1V482.93h-1ZM804 165h1V337.44h-1ZM805 165h1V222.16h-1ZM806 175.42h1V354.87h-1ZM807 272.15h1V478.27h-1ZM808 409.81h1V515.1h-1ZM809 403.87h1V515.1h-1ZM810 236.21h1V483.87h-1ZM811 165.8h1V332.02h-1ZM812 165.8h1V232.7h-1ZM813 180.74h1V369.76h-1ZM814 285.44h1V488.82h-1ZM815 426.59h1V517.7h-1ZM816 384.27h1V517.7h-1ZM817 220.58h1V475h-1ZM818 162.9h1V313.9h-1ZM819 162.9h1V265.21h-1ZM820 191.33h1V428.22h-1ZM821 333.12h1V516.89h-1ZM822 455.33h1V517.7h-1ZM823 299.75h1V509.49h-1ZM824 174.17h1V397.65h-1ZM825 160.1h1V235.82h-1ZM826 160.1h1V329.85h-1ZM827 236.22h1V480.6h-1ZM828 399.94h1V519.4h-1ZM829 384.28h1V519.4h-1ZM830 218.51h1V476.16h-1ZM831 160.1h1V313.01h-1ZM832 160.1h1V273.96h-1ZM833 192.08h1V445.62h-1ZM834 347.54h1V517.7h-1ZM835 434.32h1V517.7h-1ZM836 275.24h1V498.78h-1ZM837 166.99h1V370.64h-1ZM838 160.1h1V217.32h-1ZM839 160.82h1V328.89h-1ZM840 240.6h1V473h-1ZM841 394.74h1V519.4h-1ZM842 389.51h1V519.4h-1ZM843 209.87h1V482.36h-1ZM844 160.1h1V309.02h-1ZM845 160.1h1V256.74h-1ZM846 190.84h1V404.15h-1ZM847 316.58h1V508.12h-1ZM848 457.78h1V519.4h-1ZM849 349.65h1V519.4h-1ZM850 198.9h1V443.28h-1ZM851 160.1h1V279.56h-1ZM852 160.1h1V295.22h-1ZM853 203.34h1V460.99h-1ZM854 366.49h1V519.4h-1ZM855 415.8h1V519.4h-1ZM856 250.72h1V490.61h-1ZM857 160.92h1V347.02h-1ZM858 160.1h1V222.32h-1ZM859 168.29h1V377.5h-1ZM860 279.85h1V502.76h-1ZM861 441.27h1V516.8h-1ZM862 312.59h1V516.8h-1ZM863 172.27h1V421.77h-1ZM864 162.9h1V238.99h-1ZM865 163.55h1V319.96h-1ZM866 236.57h1V468.23h-1ZM867 384.84h1V541.25h-1ZM868 457.1h1V541.9h-1ZM869 396.01h1V510.36h-1ZM870 368.93h1V431.65h-1ZM871 350.11h1V380.37h-1ZM872 341.34h1V362.02h-1ZM873 337.92h1V346.66h-1ZM874 336.37h1V339.61h-1ZM875 335.03h1V338.07h-1ZM876 333.85h1V336.52h-1ZM877 332.67h1V335.34h-1ZM878 329.76h1V334.16h-1ZM879 325.71h1V332.92h-1ZM880 311.84h1V328.86h-1ZM881 285.71h1V321.39h-1ZM882 144.3h1V306.53h-1ZM883 124.3h1V255.73h-1ZM884 124.98h1V288.02h-1ZM885 201.11h1V442.59h-1ZM886 355.68h1V518.72h-1ZM887 448.6h1V519.4h-1ZM888 275.48h1V509.99h-1ZM889 161.39h1V380.63h-1ZM890 157.7h1V214.63h-1ZM891 160.6h1V347.05h-1ZM892 252.64h1V484.94h-1ZM893 409.07h1V519.4h-1ZM894 384.28h1V519.4h-1ZM895 218.51h1V476.16h-1ZM896 160.1h1V313.01h-1ZM897 160.1h1V252.39h-1ZM898 185.47h1V407.63h-1ZM899 315.29h1V512.06h-1ZM900 463.22h1V519.4h-1ZM901 292.96h1V518.33h-1ZM902 164.35h1V405.12h-1ZM903 160.1h1V221.96h-1ZM904 162.98h1V348.19h-1ZM905 254.41h1V485.17h-1ZM906 409.8h1V519.4h-1ZM907 399.44h1V519.4h-1ZM908 235.04h1V480.44h-1ZM909 158.6h1V329.06h-1ZM910 158.6h1V234.99h-1ZM911 172.8h1V398.27h-1ZM912 299.5h1V511.11h-1ZM913 456.47h1V519.4h-1ZM914 331.24h1V518.57h-1ZM915 186.69h1V428.18h-1ZM916 157.7h1V261.99h-1ZM917 157.7h1V312.73h-1ZM918 216.93h1V478.15h-1ZM919 385.01h1V522h-1ZM920 407.33h1V522h-1ZM921 245.39h1V484.96h-1ZM922 159.38h1V339.01h-1ZM923 158.6h1V215.01h-1ZM924 165.97h1V363.56h-1ZM925 270.84h1V493.92h-1ZM926 426.73h1V519.4h-1ZM927 400.56h1V519.4h-1ZM928 249.5h1V475.39h-1ZM929 162.53h1V340h-1ZM930 159.8h1V208.38h-1ZM931 163.08h1V363.98h-1ZM932 265.81h1V499.22h-1ZM933 430.88h1V519.4h-1ZM934 347.72h1V519.4h-1ZM935 190.86h1V446.67h-1ZM936 158.6h1V273.48h-1ZM937 158.6h1V283.19h-1ZM938 204.97h1V437.24h-1ZM939 349h1V516.98h-1ZM940 460.1h1V517.7h-1ZM941 305.75h1V510.76h-1ZM942 176.75h1V401.79h-1ZM943 157.7h1V241.64h-1ZM944 157.7h1V298.8h-1ZM945 215.81h1V451.46h-1ZM946 365.58h1V519.4h-1ZM947 451.11h1V519.4h-1ZM948 299.46h1V506.81h-1ZM949 177.85h1V392.47h-1ZM950 160.1h1V238.73h-1ZM951 160.1h1V305.46h-1ZM952 220.33h1V454.87h-1ZM953 369.74h1V515.1h-1ZM954 448.15h1V515.1h-1ZM955 310.97h1V500.15h-1ZM956 191.8h1V395.36h-1ZM957 162.9h1V254.09h-1ZM958 162.9h1V269.56h-1ZM959 196.21h1V420.74h-1ZM960 329.48h1V509.7h-1ZM961 468.64h1V512.5h-1ZM962 383.63h1V510.64h-1ZM963 259.88h1V449.49h-1ZM964 176.54h1V331.52h-1ZM965 165h1V217.48h-1ZM966 165h1V300.58h-1ZM967 220.82h1V447.23h-1ZM968 364.7h1V512.5h-1ZM969 461.31h1V512.5h-1ZM970 339.65h1V503.22h-1ZM971 217.99h1V416.14h-1ZM972 167.6h1V284.72h-1ZM973 167.6h1V223.5h-1ZM974 177.79h1V353.25h-1ZM975 272.36h1V473.9h-1ZM976 406.94h1V509.9h-1ZM977 448.5h1V509.9h-1ZM978 332h1V493.48h-1ZM979 218.1h1V404.27h-1ZM980 165.46h1V280.86h-1ZM981 165h1V220.36h-1ZM982 171.66h1V368.61h-1ZM983 276.33h1V492.5h-1ZM984 430.15h1V510.8h-1ZM985 402.86h1V510.8h-1ZM986 270.04h1V467.43h-1ZM987 176.11h1V348.15h-1ZM988 162.9h1V222.48h-1ZM989 162.9h1V283.23h-1ZM990 211.68h1V424.94h-1ZM991 339.9h1V511.54h-1ZM992 470.12h1V517.7h-1ZM993 362.14h1V517.05h-1ZM994 220.01h1V444.35h-1ZM995 158.6h1V299.11h-1ZM996 158.6h1V218.33h-1ZM997 169.5h1V357.08h-1ZM998 270.63h1V486.1h-1ZM999 414.55h1V524.6h-1ZM1000 422.51h1V524.6h-1ZM1001 255.48h1V496.37h-1ZM1002 154.31h1V353.82h-1ZM1003 151.1h1V198.77h-1ZM1004 153.73h1V325.55h-1ZM1005 238.52h1V471.81h-1ZM1006 390.89h1V534.1h-1ZM1007 441.54h1V534.1h-1ZM1008 252.71h1V516.72h-1ZM1009 144.7h1V364.89h-1ZM1010 143.7h1V192.84h-1ZM1011 149.53h1V333.55h-1ZM1012 243.98h1V480.25h-1ZM1013 399.5h1V541.9h-1ZM1014 460.77h1V541.9h-1ZM1015 283.63h1V526.87h-1ZM1016 151.83h1V395.07h-1ZM1017 136.8h1V217.93h-1ZM1018 136.8h1V310.85h-1ZM1019 213.72h1V480.41h-1ZM1020 386.56h1V546.2h-1ZM1021 444.13h1V546.2h-1ZM1022 253.58h1V522.9h-1ZM1023 134.99h1V366.79h-1ZM1024 131.2h1V187.16h-1ZM1025 134.42h1V339.46h-1ZM1026 236.91h1V501.11h-1ZM1027 414.19h1V550.6h-1ZM1028 413.48h1V550.6h-1ZM1029 213.11h1V513.17h-1ZM1030 132.1h1V331.17h-1ZM1031 132.1h1V235.59h-1ZM1032 155.72h1V428.8h-1ZM1033 314.02h1V549.06h-1ZM1034 488.42h1V552.9h-1ZM1035 288.53h1V548.5h-1ZM1036 137.66h1V412.86h-1ZM1037 127.8h1V208.48h-1ZM1038 129.11h1V342.25h-1ZM1039 228.98h1V512.75h-1ZM1040 418.63h1V555.9h-1ZM1041 403.15h1V555.9h-1ZM1042 205.18h1V507.3h-1ZM1043 126.9h1V320.81h-1ZM1044 126.9h1V255.31h-1ZM1045 155.72h1V469.23h-1ZM1046 342h1V557.9h-1ZM1047 457.04h1V557.9h-1ZM1048 264.3h1V534.98h-1ZM1049 133.15h1V379.72h-1ZM1050 124.8h1V193.96h-1ZM1051 126.3h1V362.94h-1ZM1052 242.82h1V532.38h-1ZM1053 442.84h1V557.9h-1ZM1054 380.67h1V557.9h-1ZM1055 195.33h1V487.37h-1ZM1056 124.8h1V302.03h-1ZM1057 124.8h1V231.29h-1ZM1058 149.12h1V430.17h-1ZM1059 312.05h1V553.95h-1ZM1060 492.22h1V557.9h-1ZM1061 288.56h1V553.42h-1ZM1062 134.84h1V415.22h-1ZM1063 124.8h1V206.98h-1ZM1064 126.13h1V341.75h-1ZM1065 227.16h1V514.24h-1ZM1066 419.03h1V557.9h-1ZM1067 367.75h1V557.9h-1ZM1068 158.4h1V493.73h-1ZM1069 124.8h1V267.57h-1ZM1070 124.8h1V278.46h-1ZM1071 184.9h1V455.08h-1ZM1072 350.12h1V554.79h-1ZM1073 493.79h1V557.9h-1ZM1074 298.78h1V553.75h-1ZM1075 141.25h1V424.47h-1ZM1076 124.8h1V221.66h-1ZM1077 124.8h1V350.57h-1ZM1078 227.82h1V530.39h-1ZM1079 438.69h1V557.9h-1ZM1080 374.83h1V557.9h-1ZM1081 187.02h1V482.81h-1ZM1082 126.9h1V289.79h-1ZM1083 126.9h1V246.09h-1ZM1084 161h1V436.51h-1ZM1085 320.79h1V551.26h-1ZM1086 476.36h1V554.9h-1ZM1087 249.38h1V549.47h-1ZM1088 126.9h1V386.81h-1ZM1089 126.9h1V190.41h-1ZM1090 137.38h1V341.8h-1ZM1091 243.8h1V493.19h-1ZM1092 407.16h1V555.9h-1ZM1093 437.41h1V555.9h-1ZM1094 210.7h1V534.53h-1ZM1095 129.5h1V340.7h-1ZM1096 129.5h1V248.25h-1ZM1097 163.47h1V437.95h-1ZM1098 322.67h1V552.28h-1ZM1099 493.15h1V555.9h-1ZM1100 302.34h1V551.84h-1ZM1101 148.2h1V425.34h-1ZM1102 132.1h1V226.9h-1ZM1103 132.1h1V351.47h-1ZM1104 232.19h1V526.18h-1ZM1105 437.06h1V552.9h-1ZM1106 396.45h1V552.9h-1ZM1107 221.65h1V491.39h-1ZM1108 133.25h1V324.6h-1ZM1109 132.1h1V211.5h-1ZM1110 141.8h1V412.6h-1ZM1111 290.26h1V546.07h-1ZM1112 486.95h1V550.4h-1ZM1113 332.37h1V547.06h-1ZM1114 173.51h1V441.02h-1ZM1115 133.8h1V260.79h-1ZM1116 133.8h1V260.79h-1ZM1117 173.51h1V441.02h-1ZM1118 332.37h1V547.06h-1ZM1119 498.26h1V550.4h-1ZM1120 362.1h1V544.66h-1ZM1121 362.1h1V438.22h-1Z" fill="#ff2233"/>
<polyline points="55.4,470 56.2,420 56.8,384 58,362 58.7,348.6 59.9,339.4 62.1,336 65,332.6 66.7,325.7 67.3,316.6 68.4,300.6" stroke="#ff2233" stroke-width="1.6" fill="none"/>
<polyline points="461.8,470 462.6,420 463.2,384 464.4,362 465.1,348.6 466.3,339.4 468.5,336 471.4,332.6 473.1,325.7 473.7,316.6 474.8,300.6" stroke="#ff2233" stroke-width="1.6" fill="none"/>
<polyline points="869.1,470 869.9,420 870.5,384 871.7,362 872.4,348.6 873.6,339.4 875.8,336 878.7,332.6 880.4,325.7 881,316.6 882.1,300.6" stroke="#ff2233" stroke-width="1.6" fill="none"/>
<polygon points="34.3,179.1 50.38,179.1 51.88,176.5 55.91,176.5 57.41,179.1 68.89,179.1 70.39,176.5 74.91,176.5 76.41,179.1 87.53,179.1 89.03,176.5 91.39,176.5 92.89,179.1 105.8,179.1 107.3,176.5 113.22,176.5 114.72,179.1 129.29,179.1 130.79,176.5 133.42,176.5 134.92,179.1 145.22,179.1 146.72,176.5 149.48,176.5 150.98,179.1 160.87,179.1 162.37,176.5 166.13,176.5 167.63,179.1 181.41,179.1 182.91,176.5 186.91,176.5 188.41,179.1 200.59,179.1 202.09,176.5 208.08,176.5 209.58,179.1 222.9,179.1 222.9,187.4 221.9,187.4 220.4,189.9 213.07,189.9 211.57,187.4 200.4,187.4 198.9,189.9 191.07,189.9 189.57,187.4 180.31,187.4 178.81,189.9 170.73,189.9 169.23,187.4 160.21,187.4 158.71,189.9 152.59,189.9 151.09,187.4 145.57,187.4 144.07,189.9 135.96,189.9 134.46,187.4 128.25,187.4 126.75,189.9 118.14,189.9 116.64,187.4 106.19,187.4 104.69,189.9 95.92,189.9 94.42,187.4 87.27,187.4 85.77,189.9 79.4,189.9 77.9,187.4 68.11,187.4 66.61,189.9 59.88,189.9 58.38,187.4 49.71,187.4 48.21,189.9 38.51,189.9 37.01,187.4 34.3,187.4" fill="#0000ff"/>
<polygon points="222.3,314.8 224.19,314.8 225.69,312.2 228.85,312.2 230.35,314.8 242.59,314.8 244.09,312.2 249.48,312.2 250.98,314.8 265.89,314.8 267.39,312.2 269.39,312.2 270.89,314.8 284.2,314.8 284.2,322.7 283.2,322.7 281.7,325.2 272.42,325.2 270.92,322.7 264.27,322.7 262.77,325.2 252.94,325.2 251.44,322.7 242.09,322.7 240.59,325.2 231.52,325.2 230.02,322.7 222.3,322.7" fill="#0000ff"/>
<polygon points="283.7,179.1 289.58,179.1 291.08,176.5 293.37,176.5 294.87,179.1 308.24,179.1 309.74,176.5 312.09,176.5 313.59,179.1 328.17,179.1 329.67,176.5 332.14,176.5 333.64,179.1 342.81,179.1 344.31,176.5 349.5,176.5 351,179.1 362.8,179.1 364.3,176.5 367.06,176.5 368.56,179.1 380.52,179.1 382.02,176.5 384.49,176.5 385.99,179.1 396.57,179.1 398.07,176.5 403.95,176.5 405.45,179.1 418.89,179.1 420.39,176.5 423.23,176.5 424.73,179.1 438.74,179.1 440.24,176.5 442.64,176.5 444.14,179.1 456.11,179.1 457.61,176.5 462.7,176.5 464.2,179.1 474.39,179.1 475.89,176.5 478.25,176.5 479.75,179.1 491.69,179.1 493.19,176.5 496.67,176.5 498.17,179.1 512.35,179.1 513.85,176.5 518.15,176.5 519.65,179.1 530.93,179.1 532.43,176.5 538.07,176.5 539.57,179.1 551.08,179.1 552.58,176.5 557.54,176.5 559.04,179.1 572.55,179.1 574.05,176.5 579.58,176.5 581.08,179.1 592.54,179.1 594.04,176.5 596.19,176.5 597.69,179.1 610.81,179.1 612.31,176.5 615.34,176.5 616.84,179.1 630.02,179.1 631.52,176.5 634.22,176.5 635.72,179.1 646.37,179.1 647.87,176.5 652.11,176.5 653.61,179.1 666.9,179.1 668.4,176.5 674.07,176.5 675.57,179.1 684.81,179.1 686.31,176.5 690.1,176.5 691.6,179.1 701.38,179.1 702.88,176.5 707.16,176.5 708.66,179.1 720.67,179.1 722.17,176.5 728.09,176.5 729.59,179.1 743.46,179.1 744.96,176.5 747.52,176.5 749.02,179.1 759.46,179.1 760.96,176.5 765.76,176.5 767.26,179.1 779.34,179.1 780.84,176.5 784.77,176.5 786.27,179.1 799.87,179.1 801.37,176.5 803.67,176.5 805.17,179.1 819.74,179.1 821.24,176.5 826.18,176.5 827.68,179.1 842.9,179.1 844.4,176.5 847.81,176.5 849.31,179.1 864.81,179.1 866.31,176.5 869.97,176.5 871.47,179.1 886.34,179.1 887.84,176.5 892.34,176.5 893.84,179.1 906.64,179.1 908.14,176.5 910.47,176.5 911.97,179.1 927.74,179.1 929.24,176.5 934.15,176.5 935.65,179.1 949.01,179.1 950.51,176.5 954.28,176.5 955.78,179.1 968.08,179.1 969.58,176.5 971.7,176.5 973.2,179.1 985.2,179.1 986.7,176.5 991.5,176.5 993,179.1 1007,179.1 1008.5,176.5 1011.52,176.5 1013.02,179.1 1023.95,179.1 1025.45,176.5 1028.26,176.5 1029.76,179.1 1037.9,179.1 1037.9,187.4 1036.9,187.4 1035.4,189.9 1031.18,189.9 1029.68,187.4 1022.76,187.4 1021.26,189.9 1014.05,189.9 1012.55,187.4 1005.2,187.4 1003.7,189.9 995.24,189.9 993.74,187.4 985.13,187.4 983.63,189.9 975.7,189.9 974.2,187.4 966.71,187.4 965.21,189.9 958.87,189.9 957.37,187.4 948.06,187.4 946.56,189.9 937.62,189.9 936.12,187.4 926.04,187.4 924.54,189.9 914.56,189.9 913.06,187.4 905.62,187.4 904.12,189.9 895.79,189.9 894.29,187.4 885.4,187.4 883.9,189.9 874.45,189.9 872.95,187.4 863.13,187.4 861.63,189.9 852.02,189.9 850.52,187.4 841.12,187.4 839.62,189.9 830.44,189.9 828.94,187.4 817.99,187.4 816.49,189.9 807.54,189.9 806.04,187.4 797.87,187.4 796.37,189.9 789.1,189.9 787.6,187.4 778.25,187.4 776.75,189.9 770.67,189.9 769.17,187.4 757.68,187.4 756.18,189.9 750.11,189.9 748.61,187.4 742.5,187.4 741,189.9 732.23,189.9 730.73,187.4 718.94,187.4 717.44,189.9 709.99,189.9 708.49,187.4 700.95,187.4 699.45,189.9 692.75,189.9 691.25,187.4 684.64,187.4 683.14,189.9 677.08,189.9 675.58,187.4 666.7,187.4 665.2,189.9 656.74,189.9 655.24,187.4 646.3,187.4 644.8,189.9 638.52,189.9 637.02,187.4 629.79,187.4 628.29,189.9 619.9,189.9 618.4,187.4 609.55,187.4 608.05,189.9 601.1,189.9 599.6,187.4 592.78,187.4 591.28,189.9 583.59,189.9 582.09,187.4 570.68,187.4 569.18,189.9 562.39,189.9 560.89,187.4 551.11,187.4 549.61,189.9 542.61,189.9 541.11,187.4 531.05,187.4 529.55,189.9 522.82,189.9 521.32,187.4 511.64,187.4 510.14,189.9 500.31,189.9 498.81,187.4 490.68,187.4 489.18,189.9 482.21,189.9 480.71,187.4 474.71,187.4 473.21,189.9 466.03,189.9 464.53,187.4 455.97,187.4 454.47,189.9 447.61,189.9 446.11,187.4 437.63,187.4 436.13,189.9 426.72,189.9 425.22,187.4 417.18,187.4 415.68,189.9 408.46,189.9 406.96,187.4 396.39,187.4 394.89,189.9 388.04,189.9 386.54,187.4 379.41,187.4 377.91,189.9 371.39,189.9 369.89,187.4 362.18,187.4 360.68,189.9 352.44,189.9 350.94,187.4 343.16,187.4 341.66,189.9 335.26,189.9 333.76,187.4 326.77,187.4 325.27,189.9 315.42,189.9 313.92,187.4 308.06,187.4 306.56,189.9 297.45,189.9 295.95,187.4 283.7,187.4" fill="#0000ff"/>
<polygon points="1036.9,314.8 1051.02,314.8 1052.52,312.2 1055.32,312.2 1056.82,314.8 1071.4,314.8 1072.9,312.2 1078.43,312.2 1079.93,314.8 1092.01,314.8 1093.51,312.2 1096.06,312.2 1097.56,314.8 1098.6,314.8 1098.6,322.7 1091.72,322.7 1090.22,325.2 1081.89,325.2 1080.39,322.7 1069.62,322.7 1068.12,325.2 1058.9,325.2 1057.4,322.7 1049.86,322.7 1048.36,325.2 1041.05,325.2 1039.55,322.7 1036.9,322.7" fill="#0000ff"/>
<polygon points="1098.2,179.1 1120.6,179.1 1120.6,187.4 1115.07,187.4 1113.57,189.9 1104.72,189.9 1103.22,187.4 1098.2,187.4" fill="#0000ff"/>
<polygon points="221.2,179.1 223.4,179.1 223.4,194 224,194 224,315.8 221.2,315.8" fill="#0000ff"/>
<rect x="282.6" y="181.1" width="2" height="141.6" fill="#0000ff"/>
<polygon points="1036.4,179.1 1038.6,179.1 1038.6,194 1039.2,194 1039.2,315.8 1036.4,315.8" fill="#0000ff"/>
<rect x="1097.3" y="181.1" width="2" height="141.6" fill="#0000ff"/>
<polygon points="152.7,180.1 153,172.6 153.8,169.6 154.4,167.6 155.8,167.6 156.5,170.6 157.5,174.6 158.5,180.1" fill="#0000ff"/>
<polygon points="152.5,186.4 153.5,194.6 154,200.6 155,199.6 155.6,194.6 156.5,186.4" fill="#0000ff"/>
<polygon points="168.2,180.1 168.5,175 169.3,172 169.9,170 171.3,170 172,173 173,177 174,180.1" fill="#0000ff"/>
<polygon points="168,186.4 169,193 169.5,199 170.5,198 171.1,193 172,186.4" fill="#0000ff"/>
<polygon points="355.7,180.1 356,172.6 356.8,169.6 357.4,167.6 358.8,167.6 359.5,170.6 360.5,174.6 361.5,180.1" fill="#0000ff"/>
<polygon points="355.5,186.4 356.5,194.5 357,200.5 358,199.5 358.6,194.5 359.5,186.4" fill="#0000ff"/>
<polygon points="369.2,180.1 369.5,174.3 370.3,171.3 370.9,169.3 372.3,169.3 373,172.3 374,176.3 375,180.1" fill="#0000ff"/>
<polygon points="369,186.4 370,192.8 370.5,198.8 371.5,197.8 372.1,192.8 373,186.4" fill="#0000ff"/>
<polygon points="559.7,180.1 560.1,174.1 561.1,149.91 561.5,137.4 562.6,137.4 563,152 564.2,175.1 565.3,180.1" fill="#0000ff"/>
<polygon points="559.5,186.4 560.5,189.7 561,195.7 562,194.7 562.6,189.7 563.5,186.4" fill="#0000ff"/>
<polygon points="571.2,180.1 571.6,174.1 572.6,165.1 573,159.1 574.1,159.1 574.5,166.1 575.7,175.1 576.8,180.1" fill="#0000ff"/>
<polygon points="571,186.4 572,204 572.5,210 573.5,209 574.1,204 575,186.4" fill="#0000ff"/>
<polygon points="761.5,180.1 761.8,174.3 762.6,171.3 763.2,169.3 764.6,169.3 765.3,172.3 766.3,176.3 767.3,180.1" fill="#0000ff"/>
<polygon points="761.3,186.4 762.3,197 762.8,203 763.8,202 764.4,197 765.3,186.4" fill="#0000ff"/>
<polygon points="774.8,180.1 775.1,173 775.9,170 776.5,168 777.9,168 778.6,171 779.6,175 780.6,180.1" fill="#0000ff"/>
<polygon points="774.6,186.4 775.6,193 776.1,199 777.1,198 777.7,193 778.6,186.4" fill="#0000ff"/>
<polygon points="965.9,180.1 966.2,172.6 967,169.6 967.6,167.6 969,167.6 969.7,170.6 970.7,174.6 971.7,180.1" fill="#0000ff"/>
<polygon points="965.7,186.4 966.7,190.3 967.2,196.3 968.2,195.3 968.8,190.3 969.7,186.4" fill="#0000ff"/>
<polygon points="982.2,180.1 982.6,174.1 983.6,165.94 984,160.3 985.1,160.3 985.5,166.88 986.7,175.1 987.8,180.1" fill="#0000ff"/>
<polygon points="982,186.4 983,189 983.5,195 984.5,194 985.1,189 986,186.4" fill="#0000ff"/>
<polygon points="223.5,257.8 230.1,263.9 223.5,270 216.9,263.9" fill="#ffff00" stroke="#30309a" stroke-width="0.9"/>
<text x="33.6" y="38.4" text-anchor="end" font-family="Liberation Sans, Arial, sans-serif" font-size="11" fill="#3838ff">10,0</text>
<text x="1125" y="38.4" font-family="Liberation Sans, Arial, sans-serif" font-size="11" fill="#ff3b4b">10,0</text>
<text x="33.6" y="98.79" text-anchor="end" font-family="Liberation Sans, Arial, sans-serif" font-size="11" fill="#3838ff">8,0</text>
<text x="1125" y="98.79" font-family="Liberation Sans, Arial, sans-serif" font-size="11" fill="#ff3b4b">8,0</text>
<text x="33.6" y="159.18" text-anchor="end" font-family="Liberation Sans, Arial, sans-serif" font-size="11" fill="#3838ff">6,0</text>
<text x="1125" y="159.18" font-family="Liberation Sans, Arial, sans-serif" font-size="11" fill="#ff3b4b">6,0</text>
<text x="33.6" y="219.57" text-anchor="end" font-family="Liberation Sans, Arial, sans-serif" font-size="11" fill="#3838ff">4,0</text>
<text x="1125" y="219.57" font-family="Liberation Sans, Arial, sans-serif" font-size="11" fill="#ff3b4b">4,0</text>
<text x="33.6" y="279.96" text-anchor="end" font-family="Liberation Sans, Arial, sans-serif" font-size="11" fill="#3838ff">2,0</text>
<text x="1125" y="279.96" font-family="Liberation Sans, Arial, sans-serif" font-size="11" fill="#ff3b4b">2,0</text>
<text x="33.6" y="340.35" text-anchor="end" font-family="Liberation Sans, Arial, sans-serif" font-size="11" fill="#3838ff">0,0</text>
<text x="1125" y="340.35" font-family="Liberation Sans, Arial, sans-serif" font-size="11" fill="#ff3b4b">0,0</text>
<text x="33.6" y="400.74" text-anchor="end" font-family="Liberation Sans, Arial, sans-serif" font-size="11" fill="#3838ff">-2,0</text>
<text x="1125" y="400.74" font-family="Liberation Sans, Arial, sans-serif" font-size="11" fill="#ff3b4b">-2,0</text>
<text x="33.6" y="461.13" text-anchor="end" font-family="Liberation Sans, Arial, sans-serif" font-size="11" fill="#3838ff">-4,0</text>
<text x="1125" y="461.13" font-family="Liberation Sans, Arial, sans-serif" font-size="11" fill="#ff3b4b">-4,0</text>
<text x="33.6" y="521.52" text-anchor="end" font-family="Liberation Sans, Arial, sans-serif" font-size="11" fill="#3838ff">-6,0</text>
<text x="1125" y="521.52" font-family="Liberation Sans, Arial, sans-serif" font-size="11" fill="#ff3b4b">-6,0</text>
<text x="33.6" y="581.91" text-anchor="end" font-family="Liberation Sans, Arial, sans-serif" font-size="11" fill="#3838ff">-8,0</text>
<text x="1125" y="581.91" font-family="Liberation Sans, Arial, sans-serif" font-size="11" fill="#ff3b4b">-8,0</text>
<text x="33.6" y="642.3" text-anchor="end" font-family="Liberation Sans, Arial, sans-serif" font-size="11" fill="#3838ff">-10,0</text>
<text x="1125" y="642.3" font-family="Liberation Sans, Arial, sans-serif" font-size="11" fill="#ff3b4b">-10,0</text>
<text x="18.3" y="54.5" font-family="Liberation Sans, Arial, sans-serif" font-size="11" fill="#3838ff">V</text>
<text x="18.3" y="70.9" font-family="Liberation Sans, Arial, sans-serif" font-size="11" fill="#3838ff" textLength="13" lengthAdjust="spacingAndGlyphs">DC</text>
<text x="1125" y="54.5" font-family="Liberation Sans, Arial, sans-serif" font-size="11" fill="#ff3b4b">V</text>
<text x="1125" y="70.9" font-family="Liberation Sans, Arial, sans-serif" font-size="11" fill="#ff3b4b" textLength="13" lengthAdjust="spacingAndGlyphs">DC</text>
<text x="35" y="655.3" text-anchor="middle" font-family="Liberation Sans, Arial, sans-serif" font-size="11" fill="#2a2a2a">-34,69</text>
<text x="144.36" y="655.3" text-anchor="middle" font-family="Liberation Sans, Arial, sans-serif" font-size="11" fill="#2a2a2a">-14,69</text>
<text x="252.79" y="655.3" text-anchor="middle" font-family="Liberation Sans, Arial, sans-serif" font-size="11" fill="#2a2a2a">5,305</text>
<text x="360.93" y="655.3" text-anchor="middle" font-family="Liberation Sans, Arial, sans-serif" font-size="11" fill="#2a2a2a">25,31</text>
<text x="470.36" y="655.3" text-anchor="middle" font-family="Liberation Sans, Arial, sans-serif" font-size="11" fill="#2a2a2a">45,31</text>
<text x="578.79" y="655.3" text-anchor="middle" font-family="Liberation Sans, Arial, sans-serif" font-size="11" fill="#2a2a2a">65,31</text>
<text x="686.93" y="655.3" text-anchor="middle" font-family="Liberation Sans, Arial, sans-serif" font-size="11" fill="#2a2a2a">85,31</text>
<text x="796.3" y="655.3" text-anchor="middle" font-family="Liberation Sans, Arial, sans-serif" font-size="11" fill="#2a2a2a">105,3</text>
<text x="904.7" y="655.3" text-anchor="middle" font-family="Liberation Sans, Arial, sans-serif" font-size="11" fill="#2a2a2a">125,3</text>
<text x="1013.2" y="655.3" text-anchor="middle" font-family="Liberation Sans, Arial, sans-serif" font-size="11" fill="#2a2a2a">145,3</text>
<text x="1122.6" y="655.3" text-anchor="middle" font-family="Liberation Sans, Arial, sans-serif" font-size="11" fill="#2a2a2a">165,3</text>
<text x="36.5" y="671.4" font-family="Liberation Sans, Arial, sans-serif" font-size="11" fill="#2a2a2a">ms</text>
<text x="487.2" y="671.4" font-family="Liberation Sans, Arial, sans-serif" font-size="12" fill="#2a2a2a" textLength="78" lengthAdjust="spacingAndGlyphs">Pico Technology</text>
<text x="574.3" y="671.4" font-family="Liberation Sans, Arial, sans-serif" font-size="12" fill="#2a2a2a" textLength="91.7" lengthAdjust="spacingAndGlyphs">www.picotech.com</text>
</svg>
</body></html>
